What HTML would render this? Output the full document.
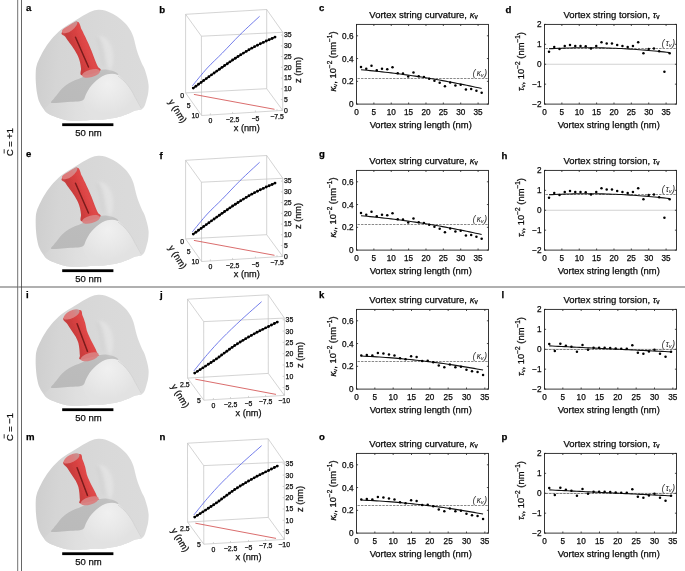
<!DOCTYPE html>
<html><head><meta charset="utf-8"><style>
html,body{margin:0;padding:0;background:#fff;}
svg{display:block;will-change:transform;}
text{font-family:"Liberation Sans", sans-serif;stroke:currentColor;stroke-width:0.25px;}
</style></head><body>
<svg width="685" height="571" viewBox="0 0 685 571">
<defs>
<filter id="soft" x="-5%" y="-5%" width="110%" height="110%"><feGaussianBlur stdDeviation="0.35"/></filter>
<filter id="blur2" x="-50%" y="-50%" width="200%" height="200%"><feGaussianBlur stdDeviation="1.6"/></filter>
<linearGradient id="gOuter" gradientUnits="userSpaceOnUse" x1="36" y1="60" x2="148" y2="70"><stop offset="0" stop-color="#cecece"/><stop offset="0.2" stop-color="#d5d5d5"/><stop offset="0.6" stop-color="#d9d9d9"/><stop offset="1" stop-color="#dbdbdb"/></linearGradient>
<radialGradient id="gDome" gradientUnits="userSpaceOnUse" cx="108" cy="84" r="30"><stop offset="0" stop-color="#f0f0f0"/><stop offset="0.6" stop-color="#e8e8e8"/><stop offset="1" stop-color="#e2e2e2"/></radialGradient>
<linearGradient id="gHollow" x1="0" y1="1" x2="1" y2="0"><stop offset="0" stop-color="#bababa"/><stop offset="0.6" stop-color="#bcbcbc"/><stop offset="1" stop-color="#c2c2c2"/></linearGradient>
<linearGradient id="gTube1" gradientUnits="userSpaceOnUse" x1="66" y1="50" x2="92" y2="40"><stop offset="0" stop-color="#d45454"/><stop offset="0.2" stop-color="#c63c3c"/><stop offset="0.5" stop-color="#d64040"/><stop offset="0.75" stop-color="#e04848"/><stop offset="1" stop-color="#cc4646"/></linearGradient>
<linearGradient id="gTube3" gradientUnits="userSpaceOnUse" x1="66" y1="50" x2="92" y2="40"><stop offset="0" stop-color="#d45454"/><stop offset="0.2" stop-color="#c63c3c"/><stop offset="0.5" stop-color="#d64040"/><stop offset="0.75" stop-color="#e04848"/><stop offset="1" stop-color="#cc4646"/></linearGradient>
<linearGradient id="gLower" gradientUnits="userSpaceOnUse" x1="42" y1="110" x2="140" y2="110"><stop offset="0" stop-color="#d4d4d4"/><stop offset="0.35" stop-color="#dfdfdf"/><stop offset="0.7" stop-color="#e5e5e5"/><stop offset="1" stop-color="#e3e3e3"/></linearGradient>
<linearGradient id="gCap" x1="0" y1="0.5" x2="1" y2="0.5"><stop offset="0" stop-color="#e07676"/><stop offset="0.6" stop-color="#d98080"/><stop offset="1" stop-color="#c49494"/></linearGradient>
<clipPath id="clipOuter"><path d="M98.30,11.08 C100.91,10.90 103.18,11.44 105.59,12.16 C108.01,12.87 110.37,14.06 112.78,15.37 C115.20,16.69 117.82,18.28 120.07,20.05 C122.32,21.82 124.55,23.98 126.28,26.00 C128.00,28.02 129.30,30.09 130.41,32.14 C131.53,34.19 132.29,36.24 132.98,38.29 C133.67,40.33 134.03,42.38 134.55,44.43 C135.08,46.47 135.44,48.36 136.13,50.57 C136.82,52.78 137.84,55.48 138.69,57.69 C139.54,59.90 140.43,62.06 141.25,63.83 C142.07,65.60 142.79,66.20 143.61,68.32 C144.43,70.43 145.49,73.77 146.18,76.50 C146.86,79.23 147.57,81.97 147.75,84.70 C147.93,87.43 147.60,90.50 147.26,92.88 C146.91,95.27 146.29,96.98 145.68,99.03 C145.08,101.08 144.48,103.63 143.61,105.17 C142.74,106.71 142.02,107.58 140.46,108.29 C138.90,109.01 136.33,108.78 134.26,109.46 C132.19,110.14 130.28,111.47 128.05,112.38 C125.82,113.29 123.62,114.16 120.86,114.92 C118.10,115.68 114.44,116.45 111.50,116.97 C108.56,117.49 105.99,117.80 103.23,118.04 C100.47,118.28 97.42,118.30 94.95,118.43 C92.49,118.56 91.31,118.66 88.45,118.82 C85.60,118.98 81.38,119.41 77.82,119.41 C74.25,119.41 70.46,119.36 67.08,118.82 C63.70,118.28 60.59,117.28 57.52,116.19 C54.46,115.10 50.99,113.83 48.66,112.29 C46.33,110.74 45.02,108.92 43.54,106.92 C42.06,104.93 40.76,102.80 39.80,100.30 C38.83,97.79 38.25,95.08 37.73,91.91 C37.20,88.74 36.82,84.81 36.64,81.28 C36.46,77.76 36.48,73.47 36.64,70.75 C36.81,68.04 37.20,66.66 37.63,65.00 C38.05,63.34 38.07,63.21 39.20,60.81 C40.34,58.40 42.36,53.98 44.42,50.57 C46.49,47.16 48.69,43.75 51.62,40.33 C54.54,36.92 57.98,33.23 61.96,30.10 C65.93,26.96 70.79,24.33 75.45,21.52 C80.11,18.70 86.12,14.97 89.93,13.23 C93.74,11.49 95.69,11.26 98.30,11.08 Z"/></clipPath>
<g id="blob1" filter="url(#soft)">
<path d="M98.40,9.70 C101.05,9.52 103.35,10.07 105.80,10.80 C108.25,11.53 110.65,12.75 113.10,14.10 C115.55,15.45 118.22,17.08 120.50,18.90 C122.78,20.72 125.05,22.93 126.80,25.00 C128.55,27.07 129.87,29.20 131.00,31.30 C132.13,33.40 132.90,35.50 133.60,37.60 C134.30,39.70 134.67,41.80 135.20,43.90 C135.73,46.00 136.10,47.93 136.80,50.20 C137.50,52.47 138.53,55.23 139.40,57.50 C140.27,59.77 141.17,61.98 142.00,63.80 C142.83,65.62 143.57,66.23 144.40,68.40 C145.23,70.57 146.30,74.00 147.00,76.80 C147.70,79.60 148.42,82.40 148.60,85.20 C148.78,88.00 148.45,91.15 148.10,93.60 C147.75,96.05 147.12,97.80 146.50,99.90 C145.88,102.00 145.28,104.62 144.40,106.20 C143.52,107.78 142.78,108.67 141.20,109.40 C139.62,110.13 137.00,109.90 134.90,110.60 C132.80,111.30 130.87,112.67 128.60,113.60 C126.33,114.53 124.10,115.42 121.30,116.20 C118.50,116.98 114.78,117.77 111.80,118.30 C108.82,118.83 106.20,119.15 103.40,119.40 C100.60,119.65 97.50,119.67 95.00,119.80 C92.50,119.93 91.30,120.03 88.40,120.20 C85.50,120.37 81.22,120.80 77.60,120.80 C73.98,120.80 70.13,120.75 66.70,120.20 C63.27,119.65 60.12,118.62 57.00,117.50 C53.88,116.38 50.37,115.08 48.00,113.50 C45.63,111.92 44.30,110.05 42.80,108.00 C41.30,105.95 39.98,103.77 39.00,101.20 C38.02,98.63 37.43,95.85 36.90,92.60 C36.37,89.35 35.98,85.32 35.80,81.70 C35.62,78.08 35.63,73.68 35.80,70.90 C35.97,68.12 36.37,66.70 36.80,65.00 C37.23,63.30 37.25,63.17 38.40,60.70 C39.55,58.23 41.60,53.70 43.70,50.20 C45.80,46.70 48.03,43.20 51.00,39.70 C53.97,36.20 57.47,32.42 61.50,29.20 C65.53,25.98 70.47,23.28 75.20,20.40 C79.93,17.52 86.03,13.68 89.90,11.90 C93.77,10.12 95.75,9.88 98.40,9.70 Z" fill="url(#gOuter)"/>
<path d="M51.50,102.90 C54.27,102.35 60.62,102.42 64.60,102.20 C68.58,101.98 72.30,101.98 75.40,101.60 C78.50,101.22 81.40,101.20 83.20,99.90 C85.00,98.60 85.13,95.82 86.20,93.80 C87.27,91.78 88.27,89.67 89.60,87.80 C90.93,85.93 92.60,84.20 94.20,82.60 C95.80,81.00 97.32,79.50 99.20,78.20 C101.08,76.90 103.22,75.53 105.50,74.80 C107.78,74.07 110.80,73.77 112.90,73.80 C115.00,73.83 116.35,73.97 118.10,75.00 C119.85,76.03 121.65,78.12 123.40,80.00 C125.15,81.88 127.03,84.20 128.60,86.30 C130.17,88.40 131.40,90.32 132.80,92.60 C134.20,94.88 135.77,97.90 137.00,100.00 C138.23,102.10 139.45,103.67 140.20,105.20 C140.95,106.73 142.38,108.30 141.50,109.20 C140.62,110.10 137.05,109.87 134.90,110.60 C132.75,111.33 130.87,112.67 128.60,113.60 C126.33,114.53 124.10,115.42 121.30,116.20 C118.50,116.98 114.78,117.77 111.80,118.30 C108.82,118.83 106.20,119.15 103.40,119.40 C100.60,119.65 97.50,119.67 95.00,119.80 C92.50,119.93 91.30,120.03 88.40,120.20 C85.50,120.37 81.22,120.80 77.60,120.80 C73.98,120.80 70.13,120.75 66.70,120.20 C63.27,119.65 60.12,118.62 57.00,117.50 C53.88,116.38 50.08,114.83 48.00,113.50 C45.92,112.17 44.50,110.83 44.50,109.50 C44.50,108.17 46.83,106.60 48.00,105.50 C49.17,104.40 48.73,103.45 51.50,102.90 Z" fill="url(#gLower)"/>
<path d="M83.20,99.90 C83.57,98.03 85.13,95.82 86.20,93.80 C87.27,91.78 88.27,89.67 89.60,87.80 C90.93,85.93 92.60,84.20 94.20,82.60 C95.80,81.00 97.32,79.50 99.20,78.20 C101.08,76.90 103.22,75.53 105.50,74.80 C107.78,74.07 110.80,73.77 112.90,73.80 C115.00,73.83 116.35,73.97 118.10,75.00 C119.85,76.03 121.65,78.12 123.40,80.00 C125.15,81.88 127.03,84.20 128.60,86.30 C130.17,88.40 131.40,90.32 132.80,92.60 C134.20,94.88 135.77,97.90 137.00,100.00 C138.23,102.10 139.45,103.67 140.20,105.20 C140.95,106.73 142.38,108.30 141.50,109.20 C140.62,110.10 137.05,109.87 134.90,110.60 C132.75,111.33 130.87,112.67 128.60,113.60 C126.33,114.53 124.10,115.42 121.30,116.20 C118.50,116.98 114.78,117.77 111.80,118.30 C108.82,118.83 106.20,119.45 103.40,119.40 C100.60,119.35 97.57,119.23 95.00,118.00 C92.43,116.77 89.83,114.17 88.00,112.00 C86.17,109.83 84.80,107.02 84.00,105.00 C83.20,102.98 82.83,101.77 83.20,99.90 Z" fill="url(#gDome)"/>
<path d="M51.50,102.90 C49.73,102.28 53.08,99.87 54.00,98.50 C54.92,97.13 55.60,96.42 57.00,94.70 C58.40,92.98 60.42,90.10 62.40,88.20 C64.38,86.30 66.73,84.65 68.90,83.30 C71.07,81.95 73.23,81.08 75.40,80.10 C77.57,79.12 79.47,78.45 81.90,77.40 C84.33,76.35 87.28,74.93 90.00,73.80 C92.72,72.67 95.62,71.30 98.20,70.60 C100.78,69.90 103.05,69.53 105.50,69.60 C107.95,69.67 110.98,70.42 112.90,71.00 C114.82,71.58 116.13,72.43 117.00,73.10 C117.87,73.77 118.78,74.88 118.10,75.00 C117.42,75.12 115.00,73.83 112.90,73.80 C110.80,73.77 107.78,74.07 105.50,74.80 C103.22,75.53 101.08,76.90 99.20,78.20 C97.32,79.50 95.80,81.00 94.20,82.60 C92.60,84.20 90.93,85.93 89.60,87.80 C88.27,89.67 87.27,91.78 86.20,93.80 C85.13,95.82 85.00,98.60 83.20,99.90 C81.40,101.20 78.50,101.22 75.40,101.60 C72.30,101.98 68.58,101.98 64.60,102.20 C60.62,102.42 53.27,103.52 51.50,102.90 Z" fill="url(#gHollow)"/>
<path d="M99,36 C103,42 105,50 106,58 C107,64 108,68 110,71 C114,66 114,56 112,48 C110,41 105,35 99,36 Z" fill="#e3e3e3" opacity="0.9" filter="url(#blur2)"/>
<path d="M97,38 C100,46 102,56 103,66" fill="none" stroke="#d0d0d0" stroke-width="1.5" filter="url(#blur2)"/>
<path d="M118,76 C124,80 129,86 133,93 C136,99 139,104 141.5,108.5" fill="none" stroke="#cfcfcf" stroke-width="0.8"/>
<g clip-path="url(#clipOuter)">
<path d="M62.00,32.20 C60.03,34.65 63.93,34.98 65.00,36.50 C66.07,38.02 66.95,39.27 68.40,41.30 C69.85,43.33 72.12,46.25 73.70,48.70 C75.28,51.15 76.85,53.73 77.90,56.00 C78.95,58.27 79.48,60.20 80.00,62.30 C80.52,64.40 80.65,66.40 81.00,68.60 C81.35,70.80 78.95,75.12 82.10,75.50 C85.25,75.88 97.28,72.40 99.90,70.90 C102.52,69.40 98.67,68.45 97.80,66.50 C96.93,64.55 95.75,61.82 94.70,59.20 C93.65,56.58 92.55,53.43 91.50,50.80 C90.45,48.17 89.55,45.95 88.40,43.40 C87.25,40.85 85.75,37.87 84.60,35.50 C83.45,33.13 82.80,31.48 81.50,29.20 C80.20,26.92 80.05,21.30 76.80,21.80 C73.55,22.30 63.97,29.75 62.00,32.20 Z" fill="url(#gTube1)"/>
<ellipse cx="91.00" cy="73.40" rx="9.30" ry="3.80" transform="rotate(-14.8 91.00 73.40)" fill="#d98080" opacity="0.95"/>
<ellipse cx="69.70" cy="27.00" rx="9.20" ry="3.90" transform="rotate(-36.7 69.70 27.00)" fill="url(#gCap)" opacity="1"/>
<line x1="75.50" y1="37.20" x2="88.50" y2="67.00" stroke="#7a1c1c" stroke-width="1.5" stroke-linecap="round"/>
</g>
</g>
<g id="blob3" filter="url(#soft)">
<path d="M98.40,9.70 C101.05,9.52 103.35,10.07 105.80,10.80 C108.25,11.53 110.65,12.75 113.10,14.10 C115.55,15.45 118.22,17.08 120.50,18.90 C122.78,20.72 125.05,22.93 126.80,25.00 C128.55,27.07 129.87,29.20 131.00,31.30 C132.13,33.40 132.90,35.50 133.60,37.60 C134.30,39.70 134.67,41.80 135.20,43.90 C135.73,46.00 136.10,47.93 136.80,50.20 C137.50,52.47 138.53,55.23 139.40,57.50 C140.27,59.77 141.17,61.98 142.00,63.80 C142.83,65.62 143.57,66.23 144.40,68.40 C145.23,70.57 146.30,74.00 147.00,76.80 C147.70,79.60 148.42,82.40 148.60,85.20 C148.78,88.00 148.45,91.15 148.10,93.60 C147.75,96.05 147.12,97.80 146.50,99.90 C145.88,102.00 145.28,104.62 144.40,106.20 C143.52,107.78 142.78,108.67 141.20,109.40 C139.62,110.13 137.00,109.90 134.90,110.60 C132.80,111.30 130.87,112.67 128.60,113.60 C126.33,114.53 124.10,115.42 121.30,116.20 C118.50,116.98 114.78,117.77 111.80,118.30 C108.82,118.83 106.20,119.15 103.40,119.40 C100.60,119.65 97.50,119.67 95.00,119.80 C92.50,119.93 91.30,120.03 88.40,120.20 C85.50,120.37 81.22,120.80 77.60,120.80 C73.98,120.80 70.13,120.75 66.70,120.20 C63.27,119.65 60.12,118.62 57.00,117.50 C53.88,116.38 50.37,115.08 48.00,113.50 C45.63,111.92 44.30,110.05 42.80,108.00 C41.30,105.95 39.98,103.77 39.00,101.20 C38.02,98.63 37.43,95.85 36.90,92.60 C36.37,89.35 35.98,85.32 35.80,81.70 C35.62,78.08 35.63,73.68 35.80,70.90 C35.97,68.12 36.37,66.70 36.80,65.00 C37.23,63.30 37.25,63.17 38.40,60.70 C39.55,58.23 41.60,53.70 43.70,50.20 C45.80,46.70 48.03,43.20 51.00,39.70 C53.97,36.20 57.47,32.42 61.50,29.20 C65.53,25.98 70.47,23.28 75.20,20.40 C79.93,17.52 86.03,13.68 89.90,11.90 C93.77,10.12 95.75,9.88 98.40,9.70 Z" fill="url(#gOuter)"/>
<path d="M51.50,102.90 C54.27,102.35 60.62,102.42 64.60,102.20 C68.58,101.98 72.30,101.98 75.40,101.60 C78.50,101.22 81.40,101.20 83.20,99.90 C85.00,98.60 85.13,95.82 86.20,93.80 C87.27,91.78 88.27,89.67 89.60,87.80 C90.93,85.93 92.60,84.20 94.20,82.60 C95.80,81.00 97.32,79.50 99.20,78.20 C101.08,76.90 103.22,75.53 105.50,74.80 C107.78,74.07 110.80,73.77 112.90,73.80 C115.00,73.83 116.35,73.97 118.10,75.00 C119.85,76.03 121.65,78.12 123.40,80.00 C125.15,81.88 127.03,84.20 128.60,86.30 C130.17,88.40 131.40,90.32 132.80,92.60 C134.20,94.88 135.77,97.90 137.00,100.00 C138.23,102.10 139.45,103.67 140.20,105.20 C140.95,106.73 142.38,108.30 141.50,109.20 C140.62,110.10 137.05,109.87 134.90,110.60 C132.75,111.33 130.87,112.67 128.60,113.60 C126.33,114.53 124.10,115.42 121.30,116.20 C118.50,116.98 114.78,117.77 111.80,118.30 C108.82,118.83 106.20,119.15 103.40,119.40 C100.60,119.65 97.50,119.67 95.00,119.80 C92.50,119.93 91.30,120.03 88.40,120.20 C85.50,120.37 81.22,120.80 77.60,120.80 C73.98,120.80 70.13,120.75 66.70,120.20 C63.27,119.65 60.12,118.62 57.00,117.50 C53.88,116.38 50.08,114.83 48.00,113.50 C45.92,112.17 44.50,110.83 44.50,109.50 C44.50,108.17 46.83,106.60 48.00,105.50 C49.17,104.40 48.73,103.45 51.50,102.90 Z" fill="url(#gLower)"/>
<path d="M83.20,99.90 C83.57,98.03 85.13,95.82 86.20,93.80 C87.27,91.78 88.27,89.67 89.60,87.80 C90.93,85.93 92.60,84.20 94.20,82.60 C95.80,81.00 97.32,79.50 99.20,78.20 C101.08,76.90 103.22,75.53 105.50,74.80 C107.78,74.07 110.80,73.77 112.90,73.80 C115.00,73.83 116.35,73.97 118.10,75.00 C119.85,76.03 121.65,78.12 123.40,80.00 C125.15,81.88 127.03,84.20 128.60,86.30 C130.17,88.40 131.40,90.32 132.80,92.60 C134.20,94.88 135.77,97.90 137.00,100.00 C138.23,102.10 139.45,103.67 140.20,105.20 C140.95,106.73 142.38,108.30 141.50,109.20 C140.62,110.10 137.05,109.87 134.90,110.60 C132.75,111.33 130.87,112.67 128.60,113.60 C126.33,114.53 124.10,115.42 121.30,116.20 C118.50,116.98 114.78,117.77 111.80,118.30 C108.82,118.83 106.20,119.45 103.40,119.40 C100.60,119.35 97.57,119.23 95.00,118.00 C92.43,116.77 89.83,114.17 88.00,112.00 C86.17,109.83 84.80,107.02 84.00,105.00 C83.20,102.98 82.83,101.77 83.20,99.90 Z" fill="url(#gDome)"/>
<path d="M51.50,102.90 C49.73,102.28 53.08,99.87 54.00,98.50 C54.92,97.13 55.60,96.42 57.00,94.70 C58.40,92.98 60.42,90.10 62.40,88.20 C64.38,86.30 66.73,84.65 68.90,83.30 C71.07,81.95 73.23,81.08 75.40,80.10 C77.57,79.12 79.47,78.45 81.90,77.40 C84.33,76.35 87.28,74.93 90.00,73.80 C92.72,72.67 95.62,71.30 98.20,70.60 C100.78,69.90 103.05,69.53 105.50,69.60 C107.95,69.67 110.98,70.42 112.90,71.00 C114.82,71.58 116.13,72.43 117.00,73.10 C117.87,73.77 118.78,74.88 118.10,75.00 C117.42,75.12 115.00,73.83 112.90,73.80 C110.80,73.77 107.78,74.07 105.50,74.80 C103.22,75.53 101.08,76.90 99.20,78.20 C97.32,79.50 95.80,81.00 94.20,82.60 C92.60,84.20 90.93,85.93 89.60,87.80 C88.27,89.67 87.27,91.78 86.20,93.80 C85.13,95.82 85.00,98.60 83.20,99.90 C81.40,101.20 78.50,101.22 75.40,101.60 C72.30,101.98 68.58,101.98 64.60,102.20 C60.62,102.42 53.27,103.52 51.50,102.90 Z" fill="url(#gHollow)"/>
<path d="M99,36 C103,42 105,50 106,58 C107,64 108,68 110,71 C114,66 114,56 112,48 C110,41 105,35 99,36 Z" fill="#e3e3e3" opacity="0.9" filter="url(#blur2)"/>
<path d="M97,38 C100,46 102,56 103,66" fill="none" stroke="#d0d0d0" stroke-width="1.5" filter="url(#blur2)"/>
<path d="M118,76 C124,80 129,86 133,93 C136,99 139,104 141.5,108.5" fill="none" stroke="#cfcfcf" stroke-width="0.8"/>
<g clip-path="url(#clipOuter)">
<path d="M63.70,32.80 C61.68,35.15 66.00,37.00 67.30,39.10 C68.60,41.20 70.10,43.30 71.50,45.40 C72.90,47.50 74.55,49.60 75.70,51.70 C76.85,53.80 77.78,55.90 78.40,58.00 C79.02,60.10 79.15,62.20 79.40,64.30 C79.65,66.40 79.67,68.92 79.90,70.60 C80.13,72.28 77.72,74.42 80.80,74.40 C83.88,74.38 95.57,71.30 98.40,70.50 C101.23,69.70 98.25,70.63 97.80,69.60 C97.35,68.57 96.58,66.23 95.70,64.30 C94.82,62.37 93.55,60.10 92.50,58.00 C91.45,55.90 90.35,53.80 89.40,51.70 C88.45,49.60 87.50,47.67 86.80,45.40 C86.10,43.13 85.90,40.55 85.20,38.10 C84.50,35.65 83.57,32.88 82.60,30.70 C81.63,28.52 82.55,24.65 79.40,25.00 C76.25,25.35 65.72,30.45 63.70,32.80 Z" fill="url(#gTube3)"/>
<ellipse cx="89.70" cy="71.80" rx="9.40" ry="3.80" transform="rotate(-17.0 89.70 71.80)" fill="#d98080" opacity="0.95"/>
<ellipse cx="71.60" cy="29.40" rx="8.80" ry="3.70" transform="rotate(-27.0 71.60 29.40)" fill="url(#gCap)" opacity="1"/>
<line x1="77.10" y1="38.80" x2="87.50" y2="66.40" stroke="#7a1c1c" stroke-width="1.5" stroke-linecap="round"/>
</g>
</g>
</defs>
<rect width="685" height="571" fill="#fff"/>
<rect x="17" y="0" width="1" height="571" fill="#8c8c8c"/>
<rect x="18" y="0" width="1" height="571" fill="#e4e4e4"/>
<rect x="21" y="0" width="1" height="571" fill="#666"/>
<rect x="0" y="286" width="685" height="2" fill="#b0b0b0"/>
<rect x="17" y="286" width="1" height="2" fill="#777"/>
<rect x="21" y="286" width="1" height="2" fill="#555"/>
<text transform="translate(13.1,142) rotate(-90)" font-size="9.3" text-anchor="middle" fill="#1a1a1a">C = +1</text>
<rect x="3.7" y="149.2" width="0.9" height="4.3" fill="#222"/>
<text transform="translate(13.1,427) rotate(-90)" font-size="9.3" text-anchor="middle" fill="#1a1a1a">C = −1</text>
<rect x="3.7" y="434.2" width="0.9" height="4.3" fill="#222"/>
<text x="26.1" y="10.80" font-size="9.6" font-weight="bold" fill="#000">a</text>
<use href="#blob1" transform="translate(0,0)"/>
<rect x="62.2" y="123.30" width="51.2" height="2.8" fill="#000"/>
<text x="88.50" y="136.00" font-size="9.5" text-anchor="middle" font-weight="normal" fill="#222" >50 nm</text>
<text x="159.3" y="12.70" font-size="9.6" font-weight="bold" fill="#000">b</text>
<line x1="185.60" y1="14.30" x2="266.70" y2="9.50" stroke="#c2c2c2" stroke-width="0.7"/>
<line x1="185.60" y1="14.30" x2="201.40" y2="36.20" stroke="#c2c2c2" stroke-width="0.7"/>
<line x1="266.70" y1="9.50" x2="282.80" y2="32.30" stroke="#c2c2c2" stroke-width="0.7"/>
<line x1="201.40" y1="36.20" x2="282.80" y2="32.30" stroke="#c2c2c2" stroke-width="0.7"/>
<line x1="185.60" y1="92.90" x2="266.70" y2="88.70" stroke="#c2c2c2" stroke-width="0.7"/>
<line x1="185.60" y1="92.90" x2="201.60" y2="115.50" stroke="#c2c2c2" stroke-width="0.7"/>
<line x1="266.70" y1="88.70" x2="282.70" y2="110.40" stroke="#c2c2c2" stroke-width="0.7"/>
<line x1="201.60" y1="115.50" x2="282.70" y2="110.40" stroke="#c2c2c2" stroke-width="0.7"/>
<line x1="185.60" y1="14.30" x2="185.60" y2="92.90" stroke="#c2c2c2" stroke-width="0.7"/>
<line x1="266.70" y1="9.50" x2="266.70" y2="88.70" stroke="#c2c2c2" stroke-width="0.7"/>
<line x1="201.40" y1="36.20" x2="201.60" y2="115.50" stroke="#c2c2c2" stroke-width="0.7"/>
<line x1="282.80" y1="32.30" x2="282.70" y2="110.40" stroke="#c2c2c2" stroke-width="0.7"/>
<line x1="193.90" y1="94.40" x2="274.50" y2="109.30" stroke="#d04848" stroke-width="0.8"/>
<path d="M192.40,85.80 C194.88,82.83 202.33,73.43 207.30,68.00 C212.27,62.57 216.73,58.77 222.20,53.20 C227.67,47.63 233.87,40.75 240.10,34.60 C246.33,28.45 256.35,19.35 259.60,16.30 " fill="none" stroke="#5a66e6" stroke-width="0.85"/>
<path d="M193.30,88.10 C196.88,85.50 208.00,77.33 214.80,72.50 C221.60,67.67 227.65,63.32 234.10,59.10 C240.55,54.88 246.68,50.87 253.50,47.20 C260.32,43.53 271.42,38.78 275.00,37.10 " fill="none" stroke="#000" stroke-width="1.3"/>
<circle cx="193.30" cy="88.10" r="1.45" fill="#000"/>
<circle cx="195.90" cy="86.20" r="1.45" fill="#000"/>
<circle cx="198.50" cy="84.31" r="1.45" fill="#000"/>
<circle cx="201.10" cy="82.41" r="1.45" fill="#000"/>
<circle cx="203.70" cy="80.51" r="1.45" fill="#000"/>
<circle cx="206.31" cy="78.62" r="1.45" fill="#000"/>
<circle cx="208.91" cy="76.73" r="1.45" fill="#000"/>
<circle cx="211.53" cy="74.84" r="1.45" fill="#000"/>
<circle cx="214.14" cy="72.97" r="1.45" fill="#000"/>
<circle cx="216.77" cy="71.10" r="1.45" fill="#000"/>
<circle cx="219.39" cy="69.24" r="1.45" fill="#000"/>
<circle cx="222.02" cy="67.37" r="1.45" fill="#000"/>
<circle cx="224.65" cy="65.52" r="1.45" fill="#000"/>
<circle cx="227.29" cy="63.68" r="1.45" fill="#000"/>
<circle cx="229.95" cy="61.87" r="1.45" fill="#000"/>
<circle cx="232.62" cy="60.07" r="1.45" fill="#000"/>
<circle cx="235.32" cy="58.31" r="1.45" fill="#000"/>
<circle cx="238.01" cy="56.55" r="1.45" fill="#000"/>
<circle cx="240.72" cy="54.80" r="1.45" fill="#000"/>
<circle cx="243.44" cy="53.08" r="1.45" fill="#000"/>
<circle cx="246.18" cy="51.40" r="1.45" fill="#000"/>
<circle cx="248.95" cy="49.75" r="1.45" fill="#000"/>
<circle cx="251.75" cy="48.16" r="1.45" fill="#000"/>
<circle cx="254.58" cy="46.63" r="1.45" fill="#000"/>
<circle cx="257.45" cy="45.18" r="1.45" fill="#000"/>
<circle cx="260.35" cy="43.78" r="1.45" fill="#000"/>
<circle cx="263.27" cy="42.41" r="1.45" fill="#000"/>
<circle cx="266.20" cy="41.07" r="1.45" fill="#000"/>
<circle cx="269.13" cy="39.75" r="1.45" fill="#000"/>
<circle cx="272.07" cy="38.43" r="1.45" fill="#000"/>
<circle cx="275.00" cy="37.10" r="1.45" fill="#000"/>
<line x1="280.90" y1="110.30" x2="282.70" y2="110.30" stroke="#c2c2c2" stroke-width="0.7"/>
<text x="283.90" y="112.70" font-size="6.9" text-anchor="start" font-weight="normal" fill="#222" >0</text>
<line x1="280.90" y1="99.55" x2="282.70" y2="99.55" stroke="#c2c2c2" stroke-width="0.7"/>
<text x="283.90" y="101.95" font-size="6.9" text-anchor="start" font-weight="normal" fill="#222" >5</text>
<line x1="280.90" y1="88.81" x2="282.70" y2="88.81" stroke="#c2c2c2" stroke-width="0.7"/>
<text x="283.90" y="91.21" font-size="6.9" text-anchor="start" font-weight="normal" fill="#222" >10</text>
<line x1="280.90" y1="78.06" x2="282.70" y2="78.06" stroke="#c2c2c2" stroke-width="0.7"/>
<text x="283.90" y="80.47" font-size="6.9" text-anchor="start" font-weight="normal" fill="#222" >15</text>
<line x1="280.90" y1="67.32" x2="282.70" y2="67.32" stroke="#c2c2c2" stroke-width="0.7"/>
<text x="283.90" y="69.72" font-size="6.9" text-anchor="start" font-weight="normal" fill="#222" >20</text>
<line x1="280.90" y1="56.57" x2="282.70" y2="56.57" stroke="#c2c2c2" stroke-width="0.7"/>
<text x="283.90" y="58.97" font-size="6.9" text-anchor="start" font-weight="normal" fill="#222" >25</text>
<line x1="280.90" y1="45.83" x2="282.70" y2="45.83" stroke="#c2c2c2" stroke-width="0.7"/>
<text x="283.90" y="48.23" font-size="6.9" text-anchor="start" font-weight="normal" fill="#222" >30</text>
<line x1="280.90" y1="35.08" x2="282.70" y2="35.08" stroke="#c2c2c2" stroke-width="0.7"/>
<text x="283.90" y="37.48" font-size="6.9" text-anchor="start" font-weight="normal" fill="#222" >35</text>
<text transform="translate(300.80,70.00) rotate(-90)" font-size="9.2" text-anchor="middle" fill="#222">z (nm)</text>
<line x1="210.40" y1="114.95" x2="210.40" y2="113.35" stroke="#c2c2c2" stroke-width="0.7"/>
<text x="210.40" y="122.80" font-size="6.9" text-anchor="middle" font-weight="normal" fill="#222" >0</text>
<line x1="232.60" y1="113.55" x2="232.60" y2="111.95" stroke="#c2c2c2" stroke-width="0.7"/>
<text x="232.60" y="122.00" font-size="6.9" text-anchor="middle" font-weight="normal" fill="#222" >−2.5</text>
<line x1="255.40" y1="112.12" x2="255.40" y2="110.52" stroke="#c2c2c2" stroke-width="0.7"/>
<text x="255.40" y="120.60" font-size="6.9" text-anchor="middle" font-weight="normal" fill="#222" >−5</text>
<line x1="277.00" y1="110.76" x2="277.00" y2="109.16" stroke="#c2c2c2" stroke-width="0.7"/>
<text x="277.00" y="119.10" font-size="6.9" text-anchor="middle" font-weight="normal" fill="#222" >−7.5</text>
<text x="246.8" y="131.00" font-size="9.2" text-anchor="middle" fill="#222">x (nm)</text>
<text x="182.10" y="97.90" font-size="6.9" text-anchor="middle" font-weight="normal" fill="#222" >0</text>
<text x="188.70" y="107.90" font-size="6.9" text-anchor="middle" font-weight="normal" fill="#222" >5</text>
<text x="195.30" y="117.60" font-size="6.9" text-anchor="middle" font-weight="normal" fill="#222" >10</text>
<text transform="translate(175.0,112.70) rotate(57.7)" font-size="9.2" text-anchor="middle" fill="#222">y (nm)</text>
<text x="319.0" y="10.80" font-size="9.6" font-weight="bold" fill="#000">c</text>
<text x="423.50" y="17.50" font-size="9.5" text-anchor="middle" fill="#111">Vortex string curvature, <tspan font-style="italic">κ</tspan><tspan font-size="6.5" dy="1.8">v</tspan></text>
<line x1="357.5" y1="78.50" x2="488.5" y2="78.50" stroke="#555" stroke-width="0.7" stroke-dasharray="2.4,1.15"/>
<polyline points="361.02,69.76 364.03,70.02 367.05,70.30 370.06,70.59 373.08,70.89 376.10,71.20 379.11,71.52 382.13,71.85 385.14,72.19 388.16,72.54 391.18,72.90 394.19,73.27 397.21,73.65 400.22,74.04 403.24,74.44 406.26,74.85 409.27,75.27 412.29,75.71 415.30,76.15 418.32,76.60 421.34,77.07 424.35,77.54 427.37,78.02 430.38,78.52 433.40,79.02 436.42,79.54 439.43,80.06 442.45,80.60 445.46,81.14 448.48,81.70 451.50,82.27 454.51,82.84 457.53,83.43 460.54,84.03 463.56,84.64 466.58,85.25 469.59,85.88 472.61,86.52 475.62,87.17 478.64,87.83 481.66,88.50" fill="none" stroke="#111" stroke-width="1.1"/>
<circle cx="361.02" cy="67.10" r="1.25" fill="#000"/>
<circle cx="366.26" cy="68.80" r="1.25" fill="#000"/>
<circle cx="371.51" cy="65.73" r="1.25" fill="#000"/>
<circle cx="376.75" cy="70.17" r="1.25" fill="#000"/>
<circle cx="382.00" cy="68.80" r="1.25" fill="#000"/>
<circle cx="387.24" cy="69.37" r="1.25" fill="#000"/>
<circle cx="392.49" cy="67.32" r="1.25" fill="#000"/>
<circle cx="397.73" cy="73.24" r="1.25" fill="#000"/>
<circle cx="402.98" cy="73.59" r="1.25" fill="#000"/>
<circle cx="408.22" cy="76.55" r="1.25" fill="#000"/>
<circle cx="413.47" cy="72.56" r="1.25" fill="#000"/>
<circle cx="418.71" cy="76.32" r="1.25" fill="#000"/>
<circle cx="423.96" cy="76.89" r="1.25" fill="#000"/>
<circle cx="429.20" cy="78.82" r="1.25" fill="#000"/>
<circle cx="434.45" cy="80.65" r="1.25" fill="#000"/>
<circle cx="439.69" cy="82.69" r="1.25" fill="#000"/>
<circle cx="444.94" cy="86.34" r="1.25" fill="#000"/>
<circle cx="450.19" cy="82.47" r="1.25" fill="#000"/>
<circle cx="455.43" cy="85.54" r="1.25" fill="#000"/>
<circle cx="460.68" cy="84.74" r="1.25" fill="#000"/>
<circle cx="465.92" cy="89.53" r="1.25" fill="#000"/>
<circle cx="471.17" cy="89.07" r="1.25" fill="#000"/>
<circle cx="476.41" cy="90.66" r="1.25" fill="#000"/>
<circle cx="481.66" cy="92.71" r="1.25" fill="#000"/>
<rect x="356.5" y="24.40" width="132" height="79.7" fill="none" stroke="#222" stroke-width="0.9"/>
<line x1="356.50" y1="104.10" x2="356.50" y2="102.50" stroke="#222" stroke-width="0.8"/>
<line x1="356.50" y1="24.40" x2="356.50" y2="26.00" stroke="#222" stroke-width="0.8"/>
<text x="356.50" y="114.60" font-size="8.2" text-anchor="middle" font-weight="normal" fill="#111" >0</text>
<line x1="373.87" y1="104.10" x2="373.87" y2="102.50" stroke="#222" stroke-width="0.8"/>
<line x1="373.87" y1="24.40" x2="373.87" y2="26.00" stroke="#222" stroke-width="0.8"/>
<text x="373.87" y="114.60" font-size="8.2" text-anchor="middle" font-weight="normal" fill="#111" >5</text>
<line x1="391.24" y1="104.10" x2="391.24" y2="102.50" stroke="#222" stroke-width="0.8"/>
<line x1="391.24" y1="24.40" x2="391.24" y2="26.00" stroke="#222" stroke-width="0.8"/>
<text x="391.24" y="114.60" font-size="8.2" text-anchor="middle" font-weight="normal" fill="#111" >10</text>
<line x1="408.61" y1="104.10" x2="408.61" y2="102.50" stroke="#222" stroke-width="0.8"/>
<line x1="408.61" y1="24.40" x2="408.61" y2="26.00" stroke="#222" stroke-width="0.8"/>
<text x="408.61" y="114.60" font-size="8.2" text-anchor="middle" font-weight="normal" fill="#111" >15</text>
<line x1="425.97" y1="104.10" x2="425.97" y2="102.50" stroke="#222" stroke-width="0.8"/>
<line x1="425.97" y1="24.40" x2="425.97" y2="26.00" stroke="#222" stroke-width="0.8"/>
<text x="425.97" y="114.60" font-size="8.2" text-anchor="middle" font-weight="normal" fill="#111" >20</text>
<line x1="443.34" y1="104.10" x2="443.34" y2="102.50" stroke="#222" stroke-width="0.8"/>
<line x1="443.34" y1="24.40" x2="443.34" y2="26.00" stroke="#222" stroke-width="0.8"/>
<text x="443.34" y="114.60" font-size="8.2" text-anchor="middle" font-weight="normal" fill="#111" >25</text>
<line x1="460.71" y1="104.10" x2="460.71" y2="102.50" stroke="#222" stroke-width="0.8"/>
<line x1="460.71" y1="24.40" x2="460.71" y2="26.00" stroke="#222" stroke-width="0.8"/>
<text x="460.71" y="114.60" font-size="8.2" text-anchor="middle" font-weight="normal" fill="#111" >30</text>
<line x1="478.08" y1="104.10" x2="478.08" y2="102.50" stroke="#222" stroke-width="0.8"/>
<line x1="478.08" y1="24.40" x2="478.08" y2="26.00" stroke="#222" stroke-width="0.8"/>
<text x="478.08" y="114.60" font-size="8.2" text-anchor="middle" font-weight="normal" fill="#111" >35</text>
<line x1="356.5" y1="104.10" x2="358.1" y2="104.10" stroke="#222" stroke-width="0.8"/>
<line x1="488.5" y1="104.10" x2="486.9" y2="104.10" stroke="#222" stroke-width="0.8"/>
<text x="353.50" y="107.10" font-size="8.2" text-anchor="end" font-weight="normal" fill="#111" >0</text>
<line x1="356.5" y1="81.33" x2="358.1" y2="81.33" stroke="#222" stroke-width="0.8"/>
<line x1="488.5" y1="81.33" x2="486.9" y2="81.33" stroke="#222" stroke-width="0.8"/>
<text x="353.50" y="84.33" font-size="8.2" text-anchor="end" font-weight="normal" fill="#111" >0.2</text>
<line x1="356.5" y1="58.56" x2="358.1" y2="58.56" stroke="#222" stroke-width="0.8"/>
<line x1="488.5" y1="58.56" x2="486.9" y2="58.56" stroke="#222" stroke-width="0.8"/>
<text x="353.50" y="61.56" font-size="8.2" text-anchor="end" font-weight="normal" fill="#111" >0.4</text>
<line x1="356.5" y1="35.79" x2="358.1" y2="35.79" stroke="#222" stroke-width="0.8"/>
<line x1="488.5" y1="35.79" x2="486.9" y2="35.79" stroke="#222" stroke-width="0.8"/>
<text x="353.50" y="38.79" font-size="8.2" text-anchor="end" font-weight="normal" fill="#111" >0.6</text>
<text x="420.70" y="127.70" font-size="9.4" text-anchor="middle" font-weight="normal" fill="#111" >Vortex string length (nm)</text>
<text transform="translate(335.50,61.50) rotate(-90)" x="0" y="0" font-size="9.4" text-anchor="middle" fill="#111"><tspan font-style="italic">κ</tspan><tspan font-size="6.2" dy="1.6">v</tspan><tspan dy="-1.6">, 10</tspan><tspan font-size="6.5" dy="-3.2">−2</tspan><tspan dy="3.2"> (nm</tspan><tspan font-size="6.5" dy="-3.2">−1</tspan><tspan dy="3.2">)</tspan></text>
<text x="486.90" y="75.60" font-size="8.3" text-anchor="end" fill="#333" font-style="italic" style="stroke-width:0.05px">(<tspan dx="1.2">κ</tspan><tspan font-size="5.6" dy="1.5">v</tspan><tspan dy="-1.5" dx="0.5">)</tspan></text>
<text x="505.6" y="12.70" font-size="9.6" font-weight="bold" fill="#000">d</text>
<text x="611.50" y="17.50" font-size="9.5" text-anchor="middle" fill="#111">Vortex string torsion, <tspan font-style="italic">τ</tspan><tspan font-size="6.5" dy="1.8">v</tspan></text>
<line x1="544.5" y1="64.25" x2="676.5" y2="64.25" stroke="#c8c8c8" stroke-width="0.8"/>
<line x1="545.5" y1="48.50" x2="676.5" y2="48.50" stroke="#555" stroke-width="0.7" stroke-dasharray="2.4,1.15"/>
<polyline points="549.02,48.75 552.03,48.59 555.05,48.45 558.06,48.32 561.08,48.20 564.10,48.10 567.11,48.01 570.13,47.93 573.14,47.86 576.16,47.81 579.18,47.77 582.19,47.75 585.21,47.73 588.22,47.73 591.24,47.74 594.26,47.77 597.27,47.81 600.29,47.86 603.30,47.92 606.32,48.00 609.34,48.09 612.35,48.19 615.37,48.31 618.38,48.43 621.40,48.57 624.42,48.73 627.43,48.90 630.45,49.08 633.46,49.27 636.48,49.47 639.50,49.69 642.51,49.93 645.53,50.17 648.54,50.43 651.56,50.70 654.58,50.98 657.59,51.28 660.61,51.59 663.62,51.91 666.64,52.24 669.66,52.59" fill="none" stroke="#111" stroke-width="1.1"/>
<circle cx="549.02" cy="51.70" r="1.25" fill="#000"/>
<circle cx="554.26" cy="46.92" r="1.25" fill="#000"/>
<circle cx="559.51" cy="49.11" r="1.25" fill="#000"/>
<circle cx="564.75" cy="45.92" r="1.25" fill="#000"/>
<circle cx="570.00" cy="44.92" r="1.25" fill="#000"/>
<circle cx="575.24" cy="45.92" r="1.25" fill="#000"/>
<circle cx="580.49" cy="45.92" r="1.25" fill="#000"/>
<circle cx="585.73" cy="46.32" r="1.25" fill="#000"/>
<circle cx="590.98" cy="48.51" r="1.25" fill="#000"/>
<circle cx="596.22" cy="45.92" r="1.25" fill="#000"/>
<circle cx="601.47" cy="42.13" r="1.25" fill="#000"/>
<circle cx="606.71" cy="43.53" r="1.25" fill="#000"/>
<circle cx="611.96" cy="43.53" r="1.25" fill="#000"/>
<circle cx="617.20" cy="44.92" r="1.25" fill="#000"/>
<circle cx="622.45" cy="45.92" r="1.25" fill="#000"/>
<circle cx="627.69" cy="46.92" r="1.25" fill="#000"/>
<circle cx="632.94" cy="45.92" r="1.25" fill="#000"/>
<circle cx="638.19" cy="42.13" r="1.25" fill="#000"/>
<circle cx="643.43" cy="53.29" r="1.25" fill="#000"/>
<circle cx="648.68" cy="49.11" r="1.25" fill="#000"/>
<circle cx="653.92" cy="48.51" r="1.25" fill="#000"/>
<circle cx="659.17" cy="51.30" r="1.25" fill="#000"/>
<circle cx="664.41" cy="71.82" r="1.25" fill="#000"/>
<circle cx="669.66" cy="53.29" r="1.25" fill="#000"/>
<rect x="544.5" y="24.40" width="132" height="79.7" fill="none" stroke="#222" stroke-width="0.9"/>
<line x1="544.50" y1="104.10" x2="544.50" y2="102.50" stroke="#222" stroke-width="0.8"/>
<line x1="544.50" y1="24.40" x2="544.50" y2="26.00" stroke="#222" stroke-width="0.8"/>
<text x="544.50" y="114.60" font-size="8.2" text-anchor="middle" font-weight="normal" fill="#111" >0</text>
<line x1="561.87" y1="104.10" x2="561.87" y2="102.50" stroke="#222" stroke-width="0.8"/>
<line x1="561.87" y1="24.40" x2="561.87" y2="26.00" stroke="#222" stroke-width="0.8"/>
<text x="561.87" y="114.60" font-size="8.2" text-anchor="middle" font-weight="normal" fill="#111" >5</text>
<line x1="579.24" y1="104.10" x2="579.24" y2="102.50" stroke="#222" stroke-width="0.8"/>
<line x1="579.24" y1="24.40" x2="579.24" y2="26.00" stroke="#222" stroke-width="0.8"/>
<text x="579.24" y="114.60" font-size="8.2" text-anchor="middle" font-weight="normal" fill="#111" >10</text>
<line x1="596.61" y1="104.10" x2="596.61" y2="102.50" stroke="#222" stroke-width="0.8"/>
<line x1="596.61" y1="24.40" x2="596.61" y2="26.00" stroke="#222" stroke-width="0.8"/>
<text x="596.61" y="114.60" font-size="8.2" text-anchor="middle" font-weight="normal" fill="#111" >15</text>
<line x1="613.97" y1="104.10" x2="613.97" y2="102.50" stroke="#222" stroke-width="0.8"/>
<line x1="613.97" y1="24.40" x2="613.97" y2="26.00" stroke="#222" stroke-width="0.8"/>
<text x="613.97" y="114.60" font-size="8.2" text-anchor="middle" font-weight="normal" fill="#111" >20</text>
<line x1="631.34" y1="104.10" x2="631.34" y2="102.50" stroke="#222" stroke-width="0.8"/>
<line x1="631.34" y1="24.40" x2="631.34" y2="26.00" stroke="#222" stroke-width="0.8"/>
<text x="631.34" y="114.60" font-size="8.2" text-anchor="middle" font-weight="normal" fill="#111" >25</text>
<line x1="648.71" y1="104.10" x2="648.71" y2="102.50" stroke="#222" stroke-width="0.8"/>
<line x1="648.71" y1="24.40" x2="648.71" y2="26.00" stroke="#222" stroke-width="0.8"/>
<text x="648.71" y="114.60" font-size="8.2" text-anchor="middle" font-weight="normal" fill="#111" >30</text>
<line x1="666.08" y1="104.10" x2="666.08" y2="102.50" stroke="#222" stroke-width="0.8"/>
<line x1="666.08" y1="24.40" x2="666.08" y2="26.00" stroke="#222" stroke-width="0.8"/>
<text x="666.08" y="114.60" font-size="8.2" text-anchor="middle" font-weight="normal" fill="#111" >35</text>
<line x1="544.5" y1="104.10" x2="546.1" y2="104.10" stroke="#222" stroke-width="0.8"/>
<line x1="676.5" y1="104.10" x2="674.9" y2="104.10" stroke="#222" stroke-width="0.8"/>
<text x="541.50" y="107.10" font-size="8.2" text-anchor="end" font-weight="normal" fill="#111" >−2</text>
<line x1="544.5" y1="84.17" x2="546.1" y2="84.17" stroke="#222" stroke-width="0.8"/>
<line x1="676.5" y1="84.17" x2="674.9" y2="84.17" stroke="#222" stroke-width="0.8"/>
<text x="541.50" y="87.17" font-size="8.2" text-anchor="end" font-weight="normal" fill="#111" >−1</text>
<line x1="544.5" y1="64.25" x2="546.1" y2="64.25" stroke="#222" stroke-width="0.8"/>
<line x1="676.5" y1="64.25" x2="674.9" y2="64.25" stroke="#222" stroke-width="0.8"/>
<text x="541.50" y="67.25" font-size="8.2" text-anchor="end" font-weight="normal" fill="#111" >0</text>
<line x1="544.5" y1="44.32" x2="546.1" y2="44.32" stroke="#222" stroke-width="0.8"/>
<line x1="676.5" y1="44.32" x2="674.9" y2="44.32" stroke="#222" stroke-width="0.8"/>
<text x="541.50" y="47.32" font-size="8.2" text-anchor="end" font-weight="normal" fill="#111" >1</text>
<line x1="544.5" y1="24.40" x2="546.1" y2="24.40" stroke="#222" stroke-width="0.8"/>
<line x1="676.5" y1="24.40" x2="674.9" y2="24.40" stroke="#222" stroke-width="0.8"/>
<text x="541.50" y="27.40" font-size="8.2" text-anchor="end" font-weight="normal" fill="#111" >2</text>
<text x="608.70" y="127.70" font-size="9.4" text-anchor="middle" font-weight="normal" fill="#111" >Vortex string length (nm)</text>
<text transform="translate(523.50,61.50) rotate(-90)" x="0" y="0" font-size="9.4" text-anchor="middle" fill="#111"><tspan font-style="italic">τ</tspan><tspan font-size="6.2" dy="1.6">v</tspan><tspan dy="-1.6">, 10</tspan><tspan font-size="6.5" dy="-3.2">−2</tspan><tspan dy="3.2"> (nm</tspan><tspan font-size="6.5" dy="-3.2">−1</tspan><tspan dy="3.2">)</tspan></text>
<text x="674.90" y="45.60" font-size="8.3" text-anchor="end" fill="#333" font-style="italic" style="stroke-width:0.05px">(<tspan dx="1.2">τ</tspan><tspan font-size="5.6" dy="1.5">v</tspan><tspan dy="-1.5" dx="0.5">)</tspan></text>
<text x="26.1" y="156.80" font-size="9.6" font-weight="bold" fill="#000">e</text>
<use href="#blob1" transform="translate(0,146)"/>
<rect x="62.2" y="269.30" width="51.2" height="2.8" fill="#000"/>
<text x="88.50" y="282.00" font-size="9.5" text-anchor="middle" font-weight="normal" fill="#222" >50 nm</text>
<text x="159.6" y="158.70" font-size="9.6" font-weight="bold" fill="#000">f</text>
<line x1="185.60" y1="160.30" x2="266.70" y2="155.50" stroke="#c2c2c2" stroke-width="0.7"/>
<line x1="185.60" y1="160.30" x2="201.40" y2="182.20" stroke="#c2c2c2" stroke-width="0.7"/>
<line x1="266.70" y1="155.50" x2="282.80" y2="178.30" stroke="#c2c2c2" stroke-width="0.7"/>
<line x1="201.40" y1="182.20" x2="282.80" y2="178.30" stroke="#c2c2c2" stroke-width="0.7"/>
<line x1="185.60" y1="238.90" x2="266.70" y2="234.70" stroke="#c2c2c2" stroke-width="0.7"/>
<line x1="185.60" y1="238.90" x2="201.60" y2="261.50" stroke="#c2c2c2" stroke-width="0.7"/>
<line x1="266.70" y1="234.70" x2="282.70" y2="256.40" stroke="#c2c2c2" stroke-width="0.7"/>
<line x1="201.60" y1="261.50" x2="282.70" y2="256.40" stroke="#c2c2c2" stroke-width="0.7"/>
<line x1="185.60" y1="160.30" x2="185.60" y2="238.90" stroke="#c2c2c2" stroke-width="0.7"/>
<line x1="266.70" y1="155.50" x2="266.70" y2="234.70" stroke="#c2c2c2" stroke-width="0.7"/>
<line x1="201.40" y1="182.20" x2="201.60" y2="261.50" stroke="#c2c2c2" stroke-width="0.7"/>
<line x1="282.80" y1="178.30" x2="282.70" y2="256.40" stroke="#c2c2c2" stroke-width="0.7"/>
<line x1="193.90" y1="240.40" x2="274.50" y2="255.30" stroke="#d04848" stroke-width="0.8"/>
<path d="M192.40,231.80 C194.88,228.83 202.33,219.43 207.30,214.00 C212.27,208.57 216.73,204.77 222.20,199.20 C227.67,193.63 233.87,186.75 240.10,180.60 C246.33,174.45 256.35,165.35 259.60,162.30 " fill="none" stroke="#5a66e6" stroke-width="0.85"/>
<path d="M193.30,234.10 C196.88,231.50 208.00,223.33 214.80,218.50 C221.60,213.67 227.65,209.32 234.10,205.10 C240.55,200.88 246.68,196.87 253.50,193.20 C260.32,189.53 271.42,184.78 275.00,183.10 " fill="none" stroke="#000" stroke-width="1.3"/>
<circle cx="193.30" cy="234.10" r="1.45" fill="#000"/>
<circle cx="195.90" cy="232.20" r="1.45" fill="#000"/>
<circle cx="198.50" cy="230.31" r="1.45" fill="#000"/>
<circle cx="201.10" cy="228.41" r="1.45" fill="#000"/>
<circle cx="203.70" cy="226.51" r="1.45" fill="#000"/>
<circle cx="206.31" cy="224.62" r="1.45" fill="#000"/>
<circle cx="208.91" cy="222.73" r="1.45" fill="#000"/>
<circle cx="211.53" cy="220.84" r="1.45" fill="#000"/>
<circle cx="214.14" cy="218.97" r="1.45" fill="#000"/>
<circle cx="216.77" cy="217.10" r="1.45" fill="#000"/>
<circle cx="219.39" cy="215.24" r="1.45" fill="#000"/>
<circle cx="222.02" cy="213.37" r="1.45" fill="#000"/>
<circle cx="224.65" cy="211.52" r="1.45" fill="#000"/>
<circle cx="227.29" cy="209.68" r="1.45" fill="#000"/>
<circle cx="229.95" cy="207.87" r="1.45" fill="#000"/>
<circle cx="232.62" cy="206.07" r="1.45" fill="#000"/>
<circle cx="235.32" cy="204.31" r="1.45" fill="#000"/>
<circle cx="238.01" cy="202.55" r="1.45" fill="#000"/>
<circle cx="240.72" cy="200.80" r="1.45" fill="#000"/>
<circle cx="243.44" cy="199.08" r="1.45" fill="#000"/>
<circle cx="246.18" cy="197.40" r="1.45" fill="#000"/>
<circle cx="248.95" cy="195.75" r="1.45" fill="#000"/>
<circle cx="251.75" cy="194.16" r="1.45" fill="#000"/>
<circle cx="254.58" cy="192.63" r="1.45" fill="#000"/>
<circle cx="257.45" cy="191.18" r="1.45" fill="#000"/>
<circle cx="260.35" cy="189.78" r="1.45" fill="#000"/>
<circle cx="263.27" cy="188.41" r="1.45" fill="#000"/>
<circle cx="266.20" cy="187.07" r="1.45" fill="#000"/>
<circle cx="269.13" cy="185.75" r="1.45" fill="#000"/>
<circle cx="272.07" cy="184.43" r="1.45" fill="#000"/>
<circle cx="275.00" cy="183.10" r="1.45" fill="#000"/>
<line x1="280.90" y1="256.30" x2="282.70" y2="256.30" stroke="#c2c2c2" stroke-width="0.7"/>
<text x="283.90" y="258.70" font-size="6.9" text-anchor="start" font-weight="normal" fill="#222" >0</text>
<line x1="280.90" y1="245.56" x2="282.70" y2="245.56" stroke="#c2c2c2" stroke-width="0.7"/>
<text x="283.90" y="247.96" font-size="6.9" text-anchor="start" font-weight="normal" fill="#222" >5</text>
<line x1="280.90" y1="234.81" x2="282.70" y2="234.81" stroke="#c2c2c2" stroke-width="0.7"/>
<text x="283.90" y="237.21" font-size="6.9" text-anchor="start" font-weight="normal" fill="#222" >10</text>
<line x1="280.90" y1="224.06" x2="282.70" y2="224.06" stroke="#c2c2c2" stroke-width="0.7"/>
<text x="283.90" y="226.47" font-size="6.9" text-anchor="start" font-weight="normal" fill="#222" >15</text>
<line x1="280.90" y1="213.32" x2="282.70" y2="213.32" stroke="#c2c2c2" stroke-width="0.7"/>
<text x="283.90" y="215.72" font-size="6.9" text-anchor="start" font-weight="normal" fill="#222" >20</text>
<line x1="280.90" y1="202.58" x2="282.70" y2="202.58" stroke="#c2c2c2" stroke-width="0.7"/>
<text x="283.90" y="204.98" font-size="6.9" text-anchor="start" font-weight="normal" fill="#222" >25</text>
<line x1="280.90" y1="191.83" x2="282.70" y2="191.83" stroke="#c2c2c2" stroke-width="0.7"/>
<text x="283.90" y="194.23" font-size="6.9" text-anchor="start" font-weight="normal" fill="#222" >30</text>
<line x1="280.90" y1="181.09" x2="282.70" y2="181.09" stroke="#c2c2c2" stroke-width="0.7"/>
<text x="283.90" y="183.49" font-size="6.9" text-anchor="start" font-weight="normal" fill="#222" >35</text>
<text transform="translate(300.80,216.00) rotate(-90)" font-size="9.2" text-anchor="middle" fill="#222">z (nm)</text>
<line x1="210.40" y1="260.95" x2="210.40" y2="259.35" stroke="#c2c2c2" stroke-width="0.7"/>
<text x="210.40" y="268.80" font-size="6.9" text-anchor="middle" font-weight="normal" fill="#222" >0</text>
<line x1="232.60" y1="259.55" x2="232.60" y2="257.95" stroke="#c2c2c2" stroke-width="0.7"/>
<text x="232.60" y="268.00" font-size="6.9" text-anchor="middle" font-weight="normal" fill="#222" >−2.5</text>
<line x1="255.40" y1="258.12" x2="255.40" y2="256.52" stroke="#c2c2c2" stroke-width="0.7"/>
<text x="255.40" y="266.60" font-size="6.9" text-anchor="middle" font-weight="normal" fill="#222" >−5</text>
<line x1="277.00" y1="256.76" x2="277.00" y2="255.16" stroke="#c2c2c2" stroke-width="0.7"/>
<text x="277.00" y="265.10" font-size="6.9" text-anchor="middle" font-weight="normal" fill="#222" >−7.5</text>
<text x="246.8" y="277.00" font-size="9.2" text-anchor="middle" fill="#222">x (nm)</text>
<text x="182.10" y="243.90" font-size="6.9" text-anchor="middle" font-weight="normal" fill="#222" >0</text>
<text x="188.70" y="253.90" font-size="6.9" text-anchor="middle" font-weight="normal" fill="#222" >5</text>
<text x="195.30" y="263.60" font-size="6.9" text-anchor="middle" font-weight="normal" fill="#222" >10</text>
<text transform="translate(175.0,258.70) rotate(57.7)" font-size="9.2" text-anchor="middle" fill="#222">y (nm)</text>
<text x="319.0" y="156.80" font-size="9.6" font-weight="bold" fill="#000">g</text>
<text x="423.50" y="163.50" font-size="9.5" text-anchor="middle" fill="#111">Vortex string curvature, <tspan font-style="italic">κ</tspan><tspan font-size="6.5" dy="1.8">v</tspan></text>
<line x1="357.5" y1="224.50" x2="488.5" y2="224.50" stroke="#555" stroke-width="0.7" stroke-dasharray="2.4,1.15"/>
<polyline points="361.02,215.76 364.03,216.02 367.05,216.30 370.06,216.59 373.08,216.89 376.10,217.20 379.11,217.52 382.13,217.85 385.14,218.19 388.16,218.54 391.18,218.90 394.19,219.27 397.21,219.65 400.22,220.04 403.24,220.44 406.26,220.85 409.27,221.27 412.29,221.71 415.30,222.15 418.32,222.60 421.34,223.07 424.35,223.54 427.37,224.02 430.38,224.52 433.40,225.02 436.42,225.54 439.43,226.06 442.45,226.60 445.46,227.14 448.48,227.70 451.50,228.27 454.51,228.84 457.53,229.43 460.54,230.03 463.56,230.64 466.58,231.25 469.59,231.88 472.61,232.52 475.62,233.17 478.64,233.83 481.66,234.50" fill="none" stroke="#111" stroke-width="1.1"/>
<circle cx="361.02" cy="213.10" r="1.25" fill="#000"/>
<circle cx="366.26" cy="214.80" r="1.25" fill="#000"/>
<circle cx="371.51" cy="211.73" r="1.25" fill="#000"/>
<circle cx="376.75" cy="216.17" r="1.25" fill="#000"/>
<circle cx="382.00" cy="214.80" r="1.25" fill="#000"/>
<circle cx="387.24" cy="215.37" r="1.25" fill="#000"/>
<circle cx="392.49" cy="213.32" r="1.25" fill="#000"/>
<circle cx="397.73" cy="219.24" r="1.25" fill="#000"/>
<circle cx="402.98" cy="219.59" r="1.25" fill="#000"/>
<circle cx="408.22" cy="222.55" r="1.25" fill="#000"/>
<circle cx="413.47" cy="218.56" r="1.25" fill="#000"/>
<circle cx="418.71" cy="222.32" r="1.25" fill="#000"/>
<circle cx="423.96" cy="222.89" r="1.25" fill="#000"/>
<circle cx="429.20" cy="224.82" r="1.25" fill="#000"/>
<circle cx="434.45" cy="226.65" r="1.25" fill="#000"/>
<circle cx="439.69" cy="228.69" r="1.25" fill="#000"/>
<circle cx="444.94" cy="232.34" r="1.25" fill="#000"/>
<circle cx="450.19" cy="228.47" r="1.25" fill="#000"/>
<circle cx="455.43" cy="231.54" r="1.25" fill="#000"/>
<circle cx="460.68" cy="230.74" r="1.25" fill="#000"/>
<circle cx="465.92" cy="235.53" r="1.25" fill="#000"/>
<circle cx="471.17" cy="235.07" r="1.25" fill="#000"/>
<circle cx="476.41" cy="236.66" r="1.25" fill="#000"/>
<circle cx="481.66" cy="238.71" r="1.25" fill="#000"/>
<rect x="356.5" y="170.40" width="132" height="79.7" fill="none" stroke="#222" stroke-width="0.9"/>
<line x1="356.50" y1="250.10" x2="356.50" y2="248.50" stroke="#222" stroke-width="0.8"/>
<line x1="356.50" y1="170.40" x2="356.50" y2="172.00" stroke="#222" stroke-width="0.8"/>
<text x="356.50" y="260.60" font-size="8.2" text-anchor="middle" font-weight="normal" fill="#111" >0</text>
<line x1="373.87" y1="250.10" x2="373.87" y2="248.50" stroke="#222" stroke-width="0.8"/>
<line x1="373.87" y1="170.40" x2="373.87" y2="172.00" stroke="#222" stroke-width="0.8"/>
<text x="373.87" y="260.60" font-size="8.2" text-anchor="middle" font-weight="normal" fill="#111" >5</text>
<line x1="391.24" y1="250.10" x2="391.24" y2="248.50" stroke="#222" stroke-width="0.8"/>
<line x1="391.24" y1="170.40" x2="391.24" y2="172.00" stroke="#222" stroke-width="0.8"/>
<text x="391.24" y="260.60" font-size="8.2" text-anchor="middle" font-weight="normal" fill="#111" >10</text>
<line x1="408.61" y1="250.10" x2="408.61" y2="248.50" stroke="#222" stroke-width="0.8"/>
<line x1="408.61" y1="170.40" x2="408.61" y2="172.00" stroke="#222" stroke-width="0.8"/>
<text x="408.61" y="260.60" font-size="8.2" text-anchor="middle" font-weight="normal" fill="#111" >15</text>
<line x1="425.97" y1="250.10" x2="425.97" y2="248.50" stroke="#222" stroke-width="0.8"/>
<line x1="425.97" y1="170.40" x2="425.97" y2="172.00" stroke="#222" stroke-width="0.8"/>
<text x="425.97" y="260.60" font-size="8.2" text-anchor="middle" font-weight="normal" fill="#111" >20</text>
<line x1="443.34" y1="250.10" x2="443.34" y2="248.50" stroke="#222" stroke-width="0.8"/>
<line x1="443.34" y1="170.40" x2="443.34" y2="172.00" stroke="#222" stroke-width="0.8"/>
<text x="443.34" y="260.60" font-size="8.2" text-anchor="middle" font-weight="normal" fill="#111" >25</text>
<line x1="460.71" y1="250.10" x2="460.71" y2="248.50" stroke="#222" stroke-width="0.8"/>
<line x1="460.71" y1="170.40" x2="460.71" y2="172.00" stroke="#222" stroke-width="0.8"/>
<text x="460.71" y="260.60" font-size="8.2" text-anchor="middle" font-weight="normal" fill="#111" >30</text>
<line x1="478.08" y1="250.10" x2="478.08" y2="248.50" stroke="#222" stroke-width="0.8"/>
<line x1="478.08" y1="170.40" x2="478.08" y2="172.00" stroke="#222" stroke-width="0.8"/>
<text x="478.08" y="260.60" font-size="8.2" text-anchor="middle" font-weight="normal" fill="#111" >35</text>
<line x1="356.5" y1="250.10" x2="358.1" y2="250.10" stroke="#222" stroke-width="0.8"/>
<line x1="488.5" y1="250.10" x2="486.9" y2="250.10" stroke="#222" stroke-width="0.8"/>
<text x="353.50" y="253.10" font-size="8.2" text-anchor="end" font-weight="normal" fill="#111" >0</text>
<line x1="356.5" y1="227.33" x2="358.1" y2="227.33" stroke="#222" stroke-width="0.8"/>
<line x1="488.5" y1="227.33" x2="486.9" y2="227.33" stroke="#222" stroke-width="0.8"/>
<text x="353.50" y="230.33" font-size="8.2" text-anchor="end" font-weight="normal" fill="#111" >0.2</text>
<line x1="356.5" y1="204.56" x2="358.1" y2="204.56" stroke="#222" stroke-width="0.8"/>
<line x1="488.5" y1="204.56" x2="486.9" y2="204.56" stroke="#222" stroke-width="0.8"/>
<text x="353.50" y="207.56" font-size="8.2" text-anchor="end" font-weight="normal" fill="#111" >0.4</text>
<line x1="356.5" y1="181.79" x2="358.1" y2="181.79" stroke="#222" stroke-width="0.8"/>
<line x1="488.5" y1="181.79" x2="486.9" y2="181.79" stroke="#222" stroke-width="0.8"/>
<text x="353.50" y="184.79" font-size="8.2" text-anchor="end" font-weight="normal" fill="#111" >0.6</text>
<text x="420.70" y="273.70" font-size="9.4" text-anchor="middle" font-weight="normal" fill="#111" >Vortex string length (nm)</text>
<text transform="translate(335.50,207.50) rotate(-90)" x="0" y="0" font-size="9.4" text-anchor="middle" fill="#111"><tspan font-style="italic">κ</tspan><tspan font-size="6.2" dy="1.6">v</tspan><tspan dy="-1.6">, 10</tspan><tspan font-size="6.5" dy="-3.2">−2</tspan><tspan dy="3.2"> (nm</tspan><tspan font-size="6.5" dy="-3.2">−1</tspan><tspan dy="3.2">)</tspan></text>
<text x="486.90" y="221.60" font-size="8.3" text-anchor="end" fill="#333" font-style="italic" style="stroke-width:0.05px">(<tspan dx="1.2">κ</tspan><tspan font-size="5.6" dy="1.5">v</tspan><tspan dy="-1.5" dx="0.5">)</tspan></text>
<text x="501.4" y="158.70" font-size="9.6" font-weight="bold" fill="#000">h</text>
<text x="611.50" y="163.50" font-size="9.5" text-anchor="middle" fill="#111">Vortex string torsion, <tspan font-style="italic">τ</tspan><tspan font-size="6.5" dy="1.8">v</tspan></text>
<line x1="544.5" y1="210.25" x2="676.5" y2="210.25" stroke="#c8c8c8" stroke-width="0.8"/>
<line x1="545.5" y1="194.50" x2="676.5" y2="194.50" stroke="#555" stroke-width="0.7" stroke-dasharray="2.4,1.15"/>
<polyline points="549.02,194.75 552.03,194.59 555.05,194.45 558.06,194.32 561.08,194.20 564.10,194.10 567.11,194.01 570.13,193.93 573.14,193.86 576.16,193.81 579.18,193.77 582.19,193.75 585.21,193.73 588.22,193.73 591.24,193.74 594.26,193.77 597.27,193.81 600.29,193.86 603.30,193.92 606.32,194.00 609.34,194.09 612.35,194.19 615.37,194.31 618.38,194.43 621.40,194.57 624.42,194.73 627.43,194.90 630.45,195.08 633.46,195.27 636.48,195.47 639.50,195.69 642.51,195.93 645.53,196.17 648.54,196.43 651.56,196.70 654.58,196.98 657.59,197.28 660.61,197.59 663.62,197.91 666.64,198.24 669.66,198.59" fill="none" stroke="#111" stroke-width="1.1"/>
<circle cx="549.02" cy="197.70" r="1.25" fill="#000"/>
<circle cx="554.26" cy="192.92" r="1.25" fill="#000"/>
<circle cx="559.51" cy="195.11" r="1.25" fill="#000"/>
<circle cx="564.75" cy="191.92" r="1.25" fill="#000"/>
<circle cx="570.00" cy="190.92" r="1.25" fill="#000"/>
<circle cx="575.24" cy="191.92" r="1.25" fill="#000"/>
<circle cx="580.49" cy="191.92" r="1.25" fill="#000"/>
<circle cx="585.73" cy="192.32" r="1.25" fill="#000"/>
<circle cx="590.98" cy="194.51" r="1.25" fill="#000"/>
<circle cx="596.22" cy="191.92" r="1.25" fill="#000"/>
<circle cx="601.47" cy="188.13" r="1.25" fill="#000"/>
<circle cx="606.71" cy="189.53" r="1.25" fill="#000"/>
<circle cx="611.96" cy="189.53" r="1.25" fill="#000"/>
<circle cx="617.20" cy="190.92" r="1.25" fill="#000"/>
<circle cx="622.45" cy="191.92" r="1.25" fill="#000"/>
<circle cx="627.69" cy="192.92" r="1.25" fill="#000"/>
<circle cx="632.94" cy="191.92" r="1.25" fill="#000"/>
<circle cx="638.19" cy="188.13" r="1.25" fill="#000"/>
<circle cx="643.43" cy="199.29" r="1.25" fill="#000"/>
<circle cx="648.68" cy="195.11" r="1.25" fill="#000"/>
<circle cx="653.92" cy="194.51" r="1.25" fill="#000"/>
<circle cx="659.17" cy="197.30" r="1.25" fill="#000"/>
<circle cx="664.41" cy="217.82" r="1.25" fill="#000"/>
<circle cx="669.66" cy="199.29" r="1.25" fill="#000"/>
<rect x="544.5" y="170.40" width="132" height="79.7" fill="none" stroke="#222" stroke-width="0.9"/>
<line x1="544.50" y1="250.10" x2="544.50" y2="248.50" stroke="#222" stroke-width="0.8"/>
<line x1="544.50" y1="170.40" x2="544.50" y2="172.00" stroke="#222" stroke-width="0.8"/>
<text x="544.50" y="260.60" font-size="8.2" text-anchor="middle" font-weight="normal" fill="#111" >0</text>
<line x1="561.87" y1="250.10" x2="561.87" y2="248.50" stroke="#222" stroke-width="0.8"/>
<line x1="561.87" y1="170.40" x2="561.87" y2="172.00" stroke="#222" stroke-width="0.8"/>
<text x="561.87" y="260.60" font-size="8.2" text-anchor="middle" font-weight="normal" fill="#111" >5</text>
<line x1="579.24" y1="250.10" x2="579.24" y2="248.50" stroke="#222" stroke-width="0.8"/>
<line x1="579.24" y1="170.40" x2="579.24" y2="172.00" stroke="#222" stroke-width="0.8"/>
<text x="579.24" y="260.60" font-size="8.2" text-anchor="middle" font-weight="normal" fill="#111" >10</text>
<line x1="596.61" y1="250.10" x2="596.61" y2="248.50" stroke="#222" stroke-width="0.8"/>
<line x1="596.61" y1="170.40" x2="596.61" y2="172.00" stroke="#222" stroke-width="0.8"/>
<text x="596.61" y="260.60" font-size="8.2" text-anchor="middle" font-weight="normal" fill="#111" >15</text>
<line x1="613.97" y1="250.10" x2="613.97" y2="248.50" stroke="#222" stroke-width="0.8"/>
<line x1="613.97" y1="170.40" x2="613.97" y2="172.00" stroke="#222" stroke-width="0.8"/>
<text x="613.97" y="260.60" font-size="8.2" text-anchor="middle" font-weight="normal" fill="#111" >20</text>
<line x1="631.34" y1="250.10" x2="631.34" y2="248.50" stroke="#222" stroke-width="0.8"/>
<line x1="631.34" y1="170.40" x2="631.34" y2="172.00" stroke="#222" stroke-width="0.8"/>
<text x="631.34" y="260.60" font-size="8.2" text-anchor="middle" font-weight="normal" fill="#111" >25</text>
<line x1="648.71" y1="250.10" x2="648.71" y2="248.50" stroke="#222" stroke-width="0.8"/>
<line x1="648.71" y1="170.40" x2="648.71" y2="172.00" stroke="#222" stroke-width="0.8"/>
<text x="648.71" y="260.60" font-size="8.2" text-anchor="middle" font-weight="normal" fill="#111" >30</text>
<line x1="666.08" y1="250.10" x2="666.08" y2="248.50" stroke="#222" stroke-width="0.8"/>
<line x1="666.08" y1="170.40" x2="666.08" y2="172.00" stroke="#222" stroke-width="0.8"/>
<text x="666.08" y="260.60" font-size="8.2" text-anchor="middle" font-weight="normal" fill="#111" >35</text>
<line x1="544.5" y1="250.10" x2="546.1" y2="250.10" stroke="#222" stroke-width="0.8"/>
<line x1="676.5" y1="250.10" x2="674.9" y2="250.10" stroke="#222" stroke-width="0.8"/>
<text x="541.50" y="253.10" font-size="8.2" text-anchor="end" font-weight="normal" fill="#111" >−2</text>
<line x1="544.5" y1="230.18" x2="546.1" y2="230.18" stroke="#222" stroke-width="0.8"/>
<line x1="676.5" y1="230.18" x2="674.9" y2="230.18" stroke="#222" stroke-width="0.8"/>
<text x="541.50" y="233.18" font-size="8.2" text-anchor="end" font-weight="normal" fill="#111" >−1</text>
<line x1="544.5" y1="210.25" x2="546.1" y2="210.25" stroke="#222" stroke-width="0.8"/>
<line x1="676.5" y1="210.25" x2="674.9" y2="210.25" stroke="#222" stroke-width="0.8"/>
<text x="541.50" y="213.25" font-size="8.2" text-anchor="end" font-weight="normal" fill="#111" >0</text>
<line x1="544.5" y1="190.33" x2="546.1" y2="190.33" stroke="#222" stroke-width="0.8"/>
<line x1="676.5" y1="190.33" x2="674.9" y2="190.33" stroke="#222" stroke-width="0.8"/>
<text x="541.50" y="193.33" font-size="8.2" text-anchor="end" font-weight="normal" fill="#111" >1</text>
<line x1="544.5" y1="170.40" x2="546.1" y2="170.40" stroke="#222" stroke-width="0.8"/>
<line x1="676.5" y1="170.40" x2="674.9" y2="170.40" stroke="#222" stroke-width="0.8"/>
<text x="541.50" y="173.40" font-size="8.2" text-anchor="end" font-weight="normal" fill="#111" >2</text>
<text x="608.70" y="273.70" font-size="9.4" text-anchor="middle" font-weight="normal" fill="#111" >Vortex string length (nm)</text>
<text transform="translate(523.50,207.50) rotate(-90)" x="0" y="0" font-size="9.4" text-anchor="middle" fill="#111"><tspan font-style="italic">τ</tspan><tspan font-size="6.2" dy="1.6">v</tspan><tspan dy="-1.6">, 10</tspan><tspan font-size="6.5" dy="-3.2">−2</tspan><tspan dy="3.2"> (nm</tspan><tspan font-size="6.5" dy="-3.2">−1</tspan><tspan dy="3.2">)</tspan></text>
<text x="674.90" y="191.60" font-size="8.3" text-anchor="end" fill="#333" font-style="italic" style="stroke-width:0.05px">(<tspan dx="1.2">τ</tspan><tspan font-size="5.6" dy="1.5">v</tspan><tspan dy="-1.5" dx="0.5">)</tspan></text>
<text x="26.1" y="297.90" font-size="9.6" font-weight="bold" fill="#000">i</text>
<use href="#blob3" transform="translate(0,285)"/>
<rect x="62.2" y="408.30" width="51.2" height="2.8" fill="#000"/>
<text x="88.50" y="421.00" font-size="9.5" text-anchor="middle" font-weight="normal" fill="#222" >50 nm</text>
<text x="159.9" y="297.90" font-size="9.6" font-weight="bold" fill="#000">j</text>
<line x1="187.50" y1="299.20" x2="268.20" y2="294.80" stroke="#c2c2c2" stroke-width="0.7"/>
<line x1="187.50" y1="299.20" x2="203.70" y2="321.60" stroke="#c2c2c2" stroke-width="0.7"/>
<line x1="268.20" y1="294.80" x2="284.40" y2="318.10" stroke="#c2c2c2" stroke-width="0.7"/>
<line x1="203.70" y1="321.60" x2="284.40" y2="318.10" stroke="#c2c2c2" stroke-width="0.7"/>
<line x1="187.60" y1="378.10" x2="268.30" y2="373.40" stroke="#c2c2c2" stroke-width="0.7"/>
<line x1="187.60" y1="378.10" x2="203.80" y2="400.20" stroke="#c2c2c2" stroke-width="0.7"/>
<line x1="268.30" y1="373.40" x2="284.40" y2="395.40" stroke="#c2c2c2" stroke-width="0.7"/>
<line x1="203.80" y1="400.20" x2="284.40" y2="395.40" stroke="#c2c2c2" stroke-width="0.7"/>
<line x1="187.50" y1="299.20" x2="187.60" y2="378.10" stroke="#c2c2c2" stroke-width="0.7"/>
<line x1="268.20" y1="294.80" x2="268.30" y2="373.40" stroke="#c2c2c2" stroke-width="0.7"/>
<line x1="203.70" y1="321.60" x2="203.80" y2="400.20" stroke="#c2c2c2" stroke-width="0.7"/>
<line x1="284.40" y1="318.10" x2="284.40" y2="395.40" stroke="#c2c2c2" stroke-width="0.7"/>
<line x1="195.40" y1="379.20" x2="276.00" y2="394.40" stroke="#d04848" stroke-width="0.8"/>
<path d="M193.90,370.90 C196.13,368.17 202.58,359.95 207.30,354.50 C212.02,349.05 216.50,344.02 222.20,338.20 C227.90,332.38 234.93,325.68 241.50,319.60 C248.07,313.52 258.25,304.68 261.60,301.70 " fill="none" stroke="#5a66e6" stroke-width="0.85"/>
<path d="M194.70,373.10 C198.05,370.92 208.23,364.52 214.80,360.00 C221.37,355.48 227.65,350.30 234.10,346.00 C240.55,341.70 246.30,338.18 253.50,334.20 C260.70,330.22 273.33,324.12 277.30,322.10 " fill="none" stroke="#000" stroke-width="1.3"/>
<circle cx="194.70" cy="373.10" r="1.45" fill="#000"/>
<circle cx="197.43" cy="371.35" r="1.45" fill="#000"/>
<circle cx="200.16" cy="369.60" r="1.45" fill="#000"/>
<circle cx="202.89" cy="367.85" r="1.45" fill="#000"/>
<circle cx="205.61" cy="366.09" r="1.45" fill="#000"/>
<circle cx="208.33" cy="364.32" r="1.45" fill="#000"/>
<circle cx="211.03" cy="362.54" r="1.45" fill="#000"/>
<circle cx="213.73" cy="360.73" r="1.45" fill="#000"/>
<circle cx="216.39" cy="358.89" r="1.45" fill="#000"/>
<circle cx="219.02" cy="356.99" r="1.45" fill="#000"/>
<circle cx="221.63" cy="355.07" r="1.45" fill="#000"/>
<circle cx="224.22" cy="353.12" r="1.45" fill="#000"/>
<circle cx="226.82" cy="351.18" r="1.45" fill="#000"/>
<circle cx="229.43" cy="349.26" r="1.45" fill="#000"/>
<circle cx="232.07" cy="347.38" r="1.45" fill="#000"/>
<circle cx="234.76" cy="345.56" r="1.45" fill="#000"/>
<circle cx="237.47" cy="343.79" r="1.45" fill="#000"/>
<circle cx="240.20" cy="342.04" r="1.45" fill="#000"/>
<circle cx="242.95" cy="340.33" r="1.45" fill="#000"/>
<circle cx="245.73" cy="338.65" r="1.45" fill="#000"/>
<circle cx="248.52" cy="337.01" r="1.45" fill="#000"/>
<circle cx="251.34" cy="335.41" r="1.45" fill="#000"/>
<circle cx="254.17" cy="333.83" r="1.45" fill="#000"/>
<circle cx="257.03" cy="332.30" r="1.45" fill="#000"/>
<circle cx="259.91" cy="330.81" r="1.45" fill="#000"/>
<circle cx="262.79" cy="329.33" r="1.45" fill="#000"/>
<circle cx="265.69" cy="327.87" r="1.45" fill="#000"/>
<circle cx="268.59" cy="326.43" r="1.45" fill="#000"/>
<circle cx="271.49" cy="324.99" r="1.45" fill="#000"/>
<circle cx="274.40" cy="323.55" r="1.45" fill="#000"/>
<circle cx="277.30" cy="322.10" r="1.45" fill="#000"/>
<line x1="282.60" y1="387.60" x2="284.40" y2="387.60" stroke="#c2c2c2" stroke-width="0.7"/>
<text x="285.60" y="390.00" font-size="6.9" text-anchor="start" font-weight="normal" fill="#222" >5</text>
<line x1="282.60" y1="376.30" x2="284.40" y2="376.30" stroke="#c2c2c2" stroke-width="0.7"/>
<text x="285.60" y="378.70" font-size="6.9" text-anchor="start" font-weight="normal" fill="#222" >10</text>
<line x1="282.60" y1="365.00" x2="284.40" y2="365.00" stroke="#c2c2c2" stroke-width="0.7"/>
<text x="285.60" y="367.40" font-size="6.9" text-anchor="start" font-weight="normal" fill="#222" >15</text>
<line x1="282.60" y1="353.70" x2="284.40" y2="353.70" stroke="#c2c2c2" stroke-width="0.7"/>
<text x="285.60" y="356.10" font-size="6.9" text-anchor="start" font-weight="normal" fill="#222" >20</text>
<line x1="282.60" y1="342.40" x2="284.40" y2="342.40" stroke="#c2c2c2" stroke-width="0.7"/>
<text x="285.60" y="344.80" font-size="6.9" text-anchor="start" font-weight="normal" fill="#222" >25</text>
<line x1="282.60" y1="331.10" x2="284.40" y2="331.10" stroke="#c2c2c2" stroke-width="0.7"/>
<text x="285.60" y="333.50" font-size="6.9" text-anchor="start" font-weight="normal" fill="#222" >30</text>
<line x1="282.60" y1="319.80" x2="284.40" y2="319.80" stroke="#c2c2c2" stroke-width="0.7"/>
<text x="285.60" y="322.20" font-size="6.9" text-anchor="start" font-weight="normal" fill="#222" >35</text>
<text transform="translate(302.60,355.00) rotate(-90)" font-size="9.2" text-anchor="middle" fill="#222">z (nm)</text>
<line x1="213.40" y1="399.63" x2="213.40" y2="398.03" stroke="#c2c2c2" stroke-width="0.7"/>
<text x="213.40" y="407.60" font-size="6.9" text-anchor="middle" font-weight="normal" fill="#222" >0</text>
<line x1="230.50" y1="398.61" x2="230.50" y2="397.01" stroke="#c2c2c2" stroke-width="0.7"/>
<text x="230.50" y="406.90" font-size="6.9" text-anchor="middle" font-weight="normal" fill="#222" >−2.5</text>
<line x1="248.50" y1="397.54" x2="248.50" y2="395.94" stroke="#c2c2c2" stroke-width="0.7"/>
<text x="248.50" y="405.90" font-size="6.9" text-anchor="middle" font-weight="normal" fill="#222" >−5</text>
<line x1="265.60" y1="396.52" x2="265.60" y2="394.92" stroke="#c2c2c2" stroke-width="0.7"/>
<text x="265.60" y="404.40" font-size="6.9" text-anchor="middle" font-weight="normal" fill="#222" >−7.5</text>
<line x1="284.20" y1="395.41" x2="284.20" y2="393.81" stroke="#c2c2c2" stroke-width="0.7"/>
<text x="284.20" y="403.40" font-size="6.9" text-anchor="middle" font-weight="normal" fill="#222" >−10</text>
<text x="248.5" y="415.80" font-size="9.2" text-anchor="middle" fill="#222">x (nm)</text>
<text x="184.90" y="386.90" font-size="6.9" text-anchor="middle" font-weight="normal" fill="#222" >2.5</text>
<text x="198.80" y="403.40" font-size="6.9" text-anchor="middle" font-weight="normal" fill="#222" >5</text>
<text transform="translate(177.5,397.50) rotate(58.4)" font-size="9.2" text-anchor="middle" fill="#222">y (nm)</text>
<text x="318.9" y="297.90" font-size="9.6" font-weight="bold" fill="#000">k</text>
<text x="423.50" y="302.50" font-size="9.5" text-anchor="middle" fill="#111">Vortex string curvature, <tspan font-style="italic">κ</tspan><tspan font-size="6.5" dy="1.8">v</tspan></text>
<line x1="357.5" y1="361.50" x2="488.5" y2="361.50" stroke="#555" stroke-width="0.7" stroke-dasharray="2.4,1.15"/>
<polyline points="361.27,356.04 364.31,356.18 367.36,356.33 370.40,356.49 373.45,356.66 376.49,356.84 379.54,357.03 382.58,357.23 385.63,357.44 388.67,357.67 391.72,357.90 394.76,358.15 397.81,358.40 400.85,358.67 403.90,358.95 406.94,359.24 409.99,359.54 413.03,359.86 416.08,360.18 419.12,360.51 422.17,360.86 425.22,361.21 428.26,361.58 431.31,361.96 434.35,362.35 437.40,362.75 440.44,363.16 443.49,363.58 446.53,364.01 449.58,364.46 452.62,364.91 455.67,365.38 458.71,365.86 461.76,366.34 464.80,366.84 467.85,367.35 470.89,367.87 473.94,368.41 476.98,368.95 480.03,369.50 483.07,370.07" fill="none" stroke="#111" stroke-width="1.1"/>
<circle cx="361.27" cy="355.51" r="1.25" fill="#000"/>
<circle cx="366.80" cy="354.94" r="1.25" fill="#000"/>
<circle cx="372.34" cy="355.51" r="1.25" fill="#000"/>
<circle cx="377.88" cy="353.01" r="1.25" fill="#000"/>
<circle cx="383.41" cy="353.46" r="1.25" fill="#000"/>
<circle cx="388.95" cy="354.49" r="1.25" fill="#000"/>
<circle cx="394.49" cy="355.51" r="1.25" fill="#000"/>
<circle cx="400.02" cy="358.13" r="1.25" fill="#000"/>
<circle cx="405.56" cy="359.27" r="1.25" fill="#000"/>
<circle cx="411.10" cy="356.20" r="1.25" fill="#000"/>
<circle cx="416.63" cy="356.99" r="1.25" fill="#000"/>
<circle cx="422.17" cy="361.09" r="1.25" fill="#000"/>
<circle cx="427.71" cy="360.64" r="1.25" fill="#000"/>
<circle cx="433.24" cy="362.23" r="1.25" fill="#000"/>
<circle cx="438.78" cy="365.42" r="1.25" fill="#000"/>
<circle cx="444.32" cy="367.24" r="1.25" fill="#000"/>
<circle cx="449.85" cy="364.39" r="1.25" fill="#000"/>
<circle cx="455.39" cy="367.24" r="1.25" fill="#000"/>
<circle cx="460.93" cy="366.78" r="1.25" fill="#000"/>
<circle cx="466.46" cy="369.86" r="1.25" fill="#000"/>
<circle cx="472.00" cy="371.34" r="1.25" fill="#000"/>
<circle cx="477.54" cy="371.91" r="1.25" fill="#000"/>
<circle cx="483.07" cy="374.98" r="1.25" fill="#000"/>
<rect x="356.5" y="309.40" width="132" height="79.7" fill="none" stroke="#222" stroke-width="0.9"/>
<line x1="356.50" y1="389.10" x2="356.50" y2="387.50" stroke="#222" stroke-width="0.8"/>
<line x1="356.50" y1="309.40" x2="356.50" y2="311.00" stroke="#222" stroke-width="0.8"/>
<text x="356.50" y="399.60" font-size="8.2" text-anchor="middle" font-weight="normal" fill="#111" >0</text>
<line x1="374.83" y1="389.10" x2="374.83" y2="387.50" stroke="#222" stroke-width="0.8"/>
<line x1="374.83" y1="309.40" x2="374.83" y2="311.00" stroke="#222" stroke-width="0.8"/>
<text x="374.83" y="399.60" font-size="8.2" text-anchor="middle" font-weight="normal" fill="#111" >5</text>
<line x1="393.17" y1="389.10" x2="393.17" y2="387.50" stroke="#222" stroke-width="0.8"/>
<line x1="393.17" y1="309.40" x2="393.17" y2="311.00" stroke="#222" stroke-width="0.8"/>
<text x="393.17" y="399.60" font-size="8.2" text-anchor="middle" font-weight="normal" fill="#111" >10</text>
<line x1="411.50" y1="389.10" x2="411.50" y2="387.50" stroke="#222" stroke-width="0.8"/>
<line x1="411.50" y1="309.40" x2="411.50" y2="311.00" stroke="#222" stroke-width="0.8"/>
<text x="411.50" y="399.60" font-size="8.2" text-anchor="middle" font-weight="normal" fill="#111" >15</text>
<line x1="429.83" y1="389.10" x2="429.83" y2="387.50" stroke="#222" stroke-width="0.8"/>
<line x1="429.83" y1="309.40" x2="429.83" y2="311.00" stroke="#222" stroke-width="0.8"/>
<text x="429.83" y="399.60" font-size="8.2" text-anchor="middle" font-weight="normal" fill="#111" >20</text>
<line x1="448.17" y1="389.10" x2="448.17" y2="387.50" stroke="#222" stroke-width="0.8"/>
<line x1="448.17" y1="309.40" x2="448.17" y2="311.00" stroke="#222" stroke-width="0.8"/>
<text x="448.17" y="399.60" font-size="8.2" text-anchor="middle" font-weight="normal" fill="#111" >25</text>
<line x1="466.50" y1="389.10" x2="466.50" y2="387.50" stroke="#222" stroke-width="0.8"/>
<line x1="466.50" y1="309.40" x2="466.50" y2="311.00" stroke="#222" stroke-width="0.8"/>
<text x="466.50" y="399.60" font-size="8.2" text-anchor="middle" font-weight="normal" fill="#111" >30</text>
<line x1="484.83" y1="389.10" x2="484.83" y2="387.50" stroke="#222" stroke-width="0.8"/>
<line x1="484.83" y1="309.40" x2="484.83" y2="311.00" stroke="#222" stroke-width="0.8"/>
<text x="484.83" y="399.60" font-size="8.2" text-anchor="middle" font-weight="normal" fill="#111" >35</text>
<line x1="356.5" y1="389.10" x2="358.1" y2="389.10" stroke="#222" stroke-width="0.8"/>
<line x1="488.5" y1="389.10" x2="486.9" y2="389.10" stroke="#222" stroke-width="0.8"/>
<text x="353.50" y="392.10" font-size="8.2" text-anchor="end" font-weight="normal" fill="#111" >0</text>
<line x1="356.5" y1="366.33" x2="358.1" y2="366.33" stroke="#222" stroke-width="0.8"/>
<line x1="488.5" y1="366.33" x2="486.9" y2="366.33" stroke="#222" stroke-width="0.8"/>
<text x="353.50" y="369.33" font-size="8.2" text-anchor="end" font-weight="normal" fill="#111" >0.2</text>
<line x1="356.5" y1="343.56" x2="358.1" y2="343.56" stroke="#222" stroke-width="0.8"/>
<line x1="488.5" y1="343.56" x2="486.9" y2="343.56" stroke="#222" stroke-width="0.8"/>
<text x="353.50" y="346.56" font-size="8.2" text-anchor="end" font-weight="normal" fill="#111" >0.4</text>
<line x1="356.5" y1="320.79" x2="358.1" y2="320.79" stroke="#222" stroke-width="0.8"/>
<line x1="488.5" y1="320.79" x2="486.9" y2="320.79" stroke="#222" stroke-width="0.8"/>
<text x="353.50" y="323.79" font-size="8.2" text-anchor="end" font-weight="normal" fill="#111" >0.6</text>
<text x="420.70" y="412.70" font-size="9.4" text-anchor="middle" font-weight="normal" fill="#111" >Vortex string length (nm)</text>
<text transform="translate(335.50,346.50) rotate(-90)" x="0" y="0" font-size="9.4" text-anchor="middle" fill="#111"><tspan font-style="italic">κ</tspan><tspan font-size="6.2" dy="1.6">v</tspan><tspan dy="-1.6">, 10</tspan><tspan font-size="6.5" dy="-3.2">−2</tspan><tspan dy="3.2"> (nm</tspan><tspan font-size="6.5" dy="-3.2">−1</tspan><tspan dy="3.2">)</tspan></text>
<text x="486.90" y="358.60" font-size="8.3" text-anchor="end" fill="#333" font-style="italic" style="stroke-width:0.05px">(<tspan dx="1.2">κ</tspan><tspan font-size="5.6" dy="1.5">v</tspan><tspan dy="-1.5" dx="0.5">)</tspan></text>
<text x="501.4" y="297.90" font-size="9.6" font-weight="bold" fill="#000">l</text>
<text x="611.50" y="302.50" font-size="9.5" text-anchor="middle" fill="#111">Vortex string torsion, <tspan font-style="italic">τ</tspan><tspan font-size="6.5" dy="1.8">v</tspan></text>
<line x1="544.5" y1="349.25" x2="676.5" y2="349.25" stroke="#c8c8c8" stroke-width="0.8"/>
<line x1="545.5" y1="349.50" x2="676.5" y2="349.50" stroke="#555" stroke-width="0.7" stroke-dasharray="2.4,1.15"/>
<polyline points="549.27,345.90 552.31,346.05 555.36,346.19 558.40,346.34 561.45,346.49 564.49,346.64 567.54,346.79 570.58,346.94 573.63,347.09 576.67,347.24 579.72,347.39 582.76,347.53 585.81,347.68 588.85,347.83 591.90,347.98 594.94,348.13 597.99,348.28 601.03,348.43 604.08,348.58 607.12,348.73 610.17,348.88 613.22,349.02 616.26,349.17 619.31,349.32 622.35,349.47 625.40,349.62 628.44,349.77 631.49,349.92 634.53,350.07 637.58,350.22 640.62,350.36 643.67,350.51 646.71,350.66 649.76,350.81 652.80,350.96 655.85,351.11 658.89,351.26 661.94,351.41 664.98,351.56 668.03,351.70 671.07,351.85" fill="none" stroke="#111" stroke-width="1.1"/>
<circle cx="549.27" cy="344.07" r="1.25" fill="#000"/>
<circle cx="554.80" cy="351.04" r="1.25" fill="#000"/>
<circle cx="560.34" cy="343.67" r="1.25" fill="#000"/>
<circle cx="565.88" cy="345.66" r="1.25" fill="#000"/>
<circle cx="571.41" cy="346.66" r="1.25" fill="#000"/>
<circle cx="576.95" cy="351.64" r="1.25" fill="#000"/>
<circle cx="582.49" cy="345.07" r="1.25" fill="#000"/>
<circle cx="588.02" cy="349.85" r="1.25" fill="#000"/>
<circle cx="593.56" cy="347.66" r="1.25" fill="#000"/>
<circle cx="599.10" cy="347.66" r="1.25" fill="#000"/>
<circle cx="604.63" cy="347.66" r="1.25" fill="#000"/>
<circle cx="610.17" cy="348.05" r="1.25" fill="#000"/>
<circle cx="615.71" cy="348.45" r="1.25" fill="#000"/>
<circle cx="621.24" cy="348.85" r="1.25" fill="#000"/>
<circle cx="626.78" cy="348.85" r="1.25" fill="#000"/>
<circle cx="632.32" cy="345.26" r="1.25" fill="#000"/>
<circle cx="637.85" cy="352.64" r="1.25" fill="#000"/>
<circle cx="643.39" cy="353.83" r="1.25" fill="#000"/>
<circle cx="648.93" cy="351.44" r="1.25" fill="#000"/>
<circle cx="654.46" cy="349.85" r="1.25" fill="#000"/>
<circle cx="660.00" cy="353.83" r="1.25" fill="#000"/>
<circle cx="665.54" cy="356.82" r="1.25" fill="#000"/>
<circle cx="671.07" cy="351.64" r="1.25" fill="#000"/>
<rect x="544.5" y="309.40" width="132" height="79.7" fill="none" stroke="#222" stroke-width="0.9"/>
<line x1="544.50" y1="389.10" x2="544.50" y2="387.50" stroke="#222" stroke-width="0.8"/>
<line x1="544.50" y1="309.40" x2="544.50" y2="311.00" stroke="#222" stroke-width="0.8"/>
<text x="544.50" y="399.60" font-size="8.2" text-anchor="middle" font-weight="normal" fill="#111" >0</text>
<line x1="562.83" y1="389.10" x2="562.83" y2="387.50" stroke="#222" stroke-width="0.8"/>
<line x1="562.83" y1="309.40" x2="562.83" y2="311.00" stroke="#222" stroke-width="0.8"/>
<text x="562.83" y="399.60" font-size="8.2" text-anchor="middle" font-weight="normal" fill="#111" >5</text>
<line x1="581.17" y1="389.10" x2="581.17" y2="387.50" stroke="#222" stroke-width="0.8"/>
<line x1="581.17" y1="309.40" x2="581.17" y2="311.00" stroke="#222" stroke-width="0.8"/>
<text x="581.17" y="399.60" font-size="8.2" text-anchor="middle" font-weight="normal" fill="#111" >10</text>
<line x1="599.50" y1="389.10" x2="599.50" y2="387.50" stroke="#222" stroke-width="0.8"/>
<line x1="599.50" y1="309.40" x2="599.50" y2="311.00" stroke="#222" stroke-width="0.8"/>
<text x="599.50" y="399.60" font-size="8.2" text-anchor="middle" font-weight="normal" fill="#111" >15</text>
<line x1="617.83" y1="389.10" x2="617.83" y2="387.50" stroke="#222" stroke-width="0.8"/>
<line x1="617.83" y1="309.40" x2="617.83" y2="311.00" stroke="#222" stroke-width="0.8"/>
<text x="617.83" y="399.60" font-size="8.2" text-anchor="middle" font-weight="normal" fill="#111" >20</text>
<line x1="636.17" y1="389.10" x2="636.17" y2="387.50" stroke="#222" stroke-width="0.8"/>
<line x1="636.17" y1="309.40" x2="636.17" y2="311.00" stroke="#222" stroke-width="0.8"/>
<text x="636.17" y="399.60" font-size="8.2" text-anchor="middle" font-weight="normal" fill="#111" >25</text>
<line x1="654.50" y1="389.10" x2="654.50" y2="387.50" stroke="#222" stroke-width="0.8"/>
<line x1="654.50" y1="309.40" x2="654.50" y2="311.00" stroke="#222" stroke-width="0.8"/>
<text x="654.50" y="399.60" font-size="8.2" text-anchor="middle" font-weight="normal" fill="#111" >30</text>
<line x1="672.83" y1="389.10" x2="672.83" y2="387.50" stroke="#222" stroke-width="0.8"/>
<line x1="672.83" y1="309.40" x2="672.83" y2="311.00" stroke="#222" stroke-width="0.8"/>
<text x="672.83" y="399.60" font-size="8.2" text-anchor="middle" font-weight="normal" fill="#111" >35</text>
<line x1="544.5" y1="389.10" x2="546.1" y2="389.10" stroke="#222" stroke-width="0.8"/>
<line x1="676.5" y1="389.10" x2="674.9" y2="389.10" stroke="#222" stroke-width="0.8"/>
<text x="541.50" y="392.10" font-size="8.2" text-anchor="end" font-weight="normal" fill="#111" >−2</text>
<line x1="544.5" y1="369.17" x2="546.1" y2="369.17" stroke="#222" stroke-width="0.8"/>
<line x1="676.5" y1="369.17" x2="674.9" y2="369.17" stroke="#222" stroke-width="0.8"/>
<text x="541.50" y="372.17" font-size="8.2" text-anchor="end" font-weight="normal" fill="#111" >−1</text>
<line x1="544.5" y1="349.25" x2="546.1" y2="349.25" stroke="#222" stroke-width="0.8"/>
<line x1="676.5" y1="349.25" x2="674.9" y2="349.25" stroke="#222" stroke-width="0.8"/>
<text x="541.50" y="352.25" font-size="8.2" text-anchor="end" font-weight="normal" fill="#111" >0</text>
<line x1="544.5" y1="329.32" x2="546.1" y2="329.32" stroke="#222" stroke-width="0.8"/>
<line x1="676.5" y1="329.32" x2="674.9" y2="329.32" stroke="#222" stroke-width="0.8"/>
<text x="541.50" y="332.32" font-size="8.2" text-anchor="end" font-weight="normal" fill="#111" >1</text>
<line x1="544.5" y1="309.40" x2="546.1" y2="309.40" stroke="#222" stroke-width="0.8"/>
<line x1="676.5" y1="309.40" x2="674.9" y2="309.40" stroke="#222" stroke-width="0.8"/>
<text x="541.50" y="312.40" font-size="8.2" text-anchor="end" font-weight="normal" fill="#111" >2</text>
<text x="608.70" y="412.70" font-size="9.4" text-anchor="middle" font-weight="normal" fill="#111" >Vortex string length (nm)</text>
<text transform="translate(523.50,346.50) rotate(-90)" x="0" y="0" font-size="9.4" text-anchor="middle" fill="#111"><tspan font-style="italic">τ</tspan><tspan font-size="6.2" dy="1.6">v</tspan><tspan dy="-1.6">, 10</tspan><tspan font-size="6.5" dy="-3.2">−2</tspan><tspan dy="3.2"> (nm</tspan><tspan font-size="6.5" dy="-3.2">−1</tspan><tspan dy="3.2">)</tspan></text>
<text x="674.90" y="346.60" font-size="8.3" text-anchor="end" fill="#333" font-style="italic" style="stroke-width:0.05px">(<tspan dx="1.2">τ</tspan><tspan font-size="5.6" dy="1.5">v</tspan><tspan dy="-1.5" dx="0.5">)</tspan></text>
<text x="26.0" y="439.60" font-size="9.6" font-weight="bold" fill="#000">m</text>
<use href="#blob3" transform="translate(0,429)"/>
<rect x="62.2" y="552.30" width="51.2" height="2.8" fill="#000"/>
<text x="88.50" y="565.00" font-size="9.5" text-anchor="middle" font-weight="normal" fill="#222" >50 nm</text>
<text x="159.4" y="439.60" font-size="9.6" font-weight="bold" fill="#000">n</text>
<line x1="187.50" y1="443.20" x2="268.20" y2="438.80" stroke="#c2c2c2" stroke-width="0.7"/>
<line x1="187.50" y1="443.20" x2="203.70" y2="465.60" stroke="#c2c2c2" stroke-width="0.7"/>
<line x1="268.20" y1="438.80" x2="284.40" y2="462.10" stroke="#c2c2c2" stroke-width="0.7"/>
<line x1="203.70" y1="465.60" x2="284.40" y2="462.10" stroke="#c2c2c2" stroke-width="0.7"/>
<line x1="187.60" y1="522.10" x2="268.30" y2="517.40" stroke="#c2c2c2" stroke-width="0.7"/>
<line x1="187.60" y1="522.10" x2="203.80" y2="544.20" stroke="#c2c2c2" stroke-width="0.7"/>
<line x1="268.30" y1="517.40" x2="284.40" y2="539.40" stroke="#c2c2c2" stroke-width="0.7"/>
<line x1="203.80" y1="544.20" x2="284.40" y2="539.40" stroke="#c2c2c2" stroke-width="0.7"/>
<line x1="187.50" y1="443.20" x2="187.60" y2="522.10" stroke="#c2c2c2" stroke-width="0.7"/>
<line x1="268.20" y1="438.80" x2="268.30" y2="517.40" stroke="#c2c2c2" stroke-width="0.7"/>
<line x1="203.70" y1="465.60" x2="203.80" y2="544.20" stroke="#c2c2c2" stroke-width="0.7"/>
<line x1="284.40" y1="462.10" x2="284.40" y2="539.40" stroke="#c2c2c2" stroke-width="0.7"/>
<line x1="195.40" y1="523.20" x2="276.00" y2="538.40" stroke="#d04848" stroke-width="0.8"/>
<path d="M193.90,514.90 C196.13,512.17 202.58,503.95 207.30,498.50 C212.02,493.05 216.50,488.02 222.20,482.20 C227.90,476.38 234.93,469.68 241.50,463.60 C248.07,457.52 258.25,448.68 261.60,445.70 " fill="none" stroke="#5a66e6" stroke-width="0.85"/>
<path d="M194.70,517.10 C198.05,514.92 208.23,508.52 214.80,504.00 C221.37,499.48 227.65,494.30 234.10,490.00 C240.55,485.70 246.30,482.18 253.50,478.20 C260.70,474.22 273.33,468.12 277.30,466.10 " fill="none" stroke="#000" stroke-width="1.3"/>
<circle cx="194.70" cy="517.10" r="1.45" fill="#000"/>
<circle cx="197.43" cy="515.35" r="1.45" fill="#000"/>
<circle cx="200.16" cy="513.60" r="1.45" fill="#000"/>
<circle cx="202.89" cy="511.85" r="1.45" fill="#000"/>
<circle cx="205.61" cy="510.09" r="1.45" fill="#000"/>
<circle cx="208.33" cy="508.32" r="1.45" fill="#000"/>
<circle cx="211.03" cy="506.54" r="1.45" fill="#000"/>
<circle cx="213.73" cy="504.73" r="1.45" fill="#000"/>
<circle cx="216.39" cy="502.89" r="1.45" fill="#000"/>
<circle cx="219.02" cy="500.99" r="1.45" fill="#000"/>
<circle cx="221.63" cy="499.07" r="1.45" fill="#000"/>
<circle cx="224.22" cy="497.12" r="1.45" fill="#000"/>
<circle cx="226.82" cy="495.18" r="1.45" fill="#000"/>
<circle cx="229.43" cy="493.26" r="1.45" fill="#000"/>
<circle cx="232.07" cy="491.38" r="1.45" fill="#000"/>
<circle cx="234.76" cy="489.56" r="1.45" fill="#000"/>
<circle cx="237.47" cy="487.79" r="1.45" fill="#000"/>
<circle cx="240.20" cy="486.04" r="1.45" fill="#000"/>
<circle cx="242.95" cy="484.33" r="1.45" fill="#000"/>
<circle cx="245.73" cy="482.65" r="1.45" fill="#000"/>
<circle cx="248.52" cy="481.01" r="1.45" fill="#000"/>
<circle cx="251.34" cy="479.41" r="1.45" fill="#000"/>
<circle cx="254.17" cy="477.83" r="1.45" fill="#000"/>
<circle cx="257.03" cy="476.30" r="1.45" fill="#000"/>
<circle cx="259.91" cy="474.81" r="1.45" fill="#000"/>
<circle cx="262.79" cy="473.33" r="1.45" fill="#000"/>
<circle cx="265.69" cy="471.87" r="1.45" fill="#000"/>
<circle cx="268.59" cy="470.43" r="1.45" fill="#000"/>
<circle cx="271.49" cy="468.99" r="1.45" fill="#000"/>
<circle cx="274.40" cy="467.55" r="1.45" fill="#000"/>
<circle cx="277.30" cy="466.10" r="1.45" fill="#000"/>
<line x1="282.60" y1="531.60" x2="284.40" y2="531.60" stroke="#c2c2c2" stroke-width="0.7"/>
<text x="285.60" y="534.00" font-size="6.9" text-anchor="start" font-weight="normal" fill="#222" >5</text>
<line x1="282.60" y1="520.30" x2="284.40" y2="520.30" stroke="#c2c2c2" stroke-width="0.7"/>
<text x="285.60" y="522.70" font-size="6.9" text-anchor="start" font-weight="normal" fill="#222" >10</text>
<line x1="282.60" y1="509.00" x2="284.40" y2="509.00" stroke="#c2c2c2" stroke-width="0.7"/>
<text x="285.60" y="511.40" font-size="6.9" text-anchor="start" font-weight="normal" fill="#222" >15</text>
<line x1="282.60" y1="497.70" x2="284.40" y2="497.70" stroke="#c2c2c2" stroke-width="0.7"/>
<text x="285.60" y="500.10" font-size="6.9" text-anchor="start" font-weight="normal" fill="#222" >20</text>
<line x1="282.60" y1="486.40" x2="284.40" y2="486.40" stroke="#c2c2c2" stroke-width="0.7"/>
<text x="285.60" y="488.80" font-size="6.9" text-anchor="start" font-weight="normal" fill="#222" >25</text>
<line x1="282.60" y1="475.10" x2="284.40" y2="475.10" stroke="#c2c2c2" stroke-width="0.7"/>
<text x="285.60" y="477.50" font-size="6.9" text-anchor="start" font-weight="normal" fill="#222" >30</text>
<line x1="282.60" y1="463.80" x2="284.40" y2="463.80" stroke="#c2c2c2" stroke-width="0.7"/>
<text x="285.60" y="466.20" font-size="6.9" text-anchor="start" font-weight="normal" fill="#222" >35</text>
<text transform="translate(302.60,499.00) rotate(-90)" font-size="9.2" text-anchor="middle" fill="#222">z (nm)</text>
<line x1="213.40" y1="543.63" x2="213.40" y2="542.03" stroke="#c2c2c2" stroke-width="0.7"/>
<text x="213.40" y="551.60" font-size="6.9" text-anchor="middle" font-weight="normal" fill="#222" >0</text>
<line x1="230.50" y1="542.61" x2="230.50" y2="541.01" stroke="#c2c2c2" stroke-width="0.7"/>
<text x="230.50" y="550.90" font-size="6.9" text-anchor="middle" font-weight="normal" fill="#222" >−2.5</text>
<line x1="248.50" y1="541.54" x2="248.50" y2="539.94" stroke="#c2c2c2" stroke-width="0.7"/>
<text x="248.50" y="549.90" font-size="6.9" text-anchor="middle" font-weight="normal" fill="#222" >−5</text>
<line x1="265.60" y1="540.52" x2="265.60" y2="538.92" stroke="#c2c2c2" stroke-width="0.7"/>
<text x="265.60" y="548.40" font-size="6.9" text-anchor="middle" font-weight="normal" fill="#222" >−7.5</text>
<line x1="284.20" y1="539.41" x2="284.20" y2="537.81" stroke="#c2c2c2" stroke-width="0.7"/>
<text x="284.20" y="547.40" font-size="6.9" text-anchor="middle" font-weight="normal" fill="#222" >−10</text>
<text x="248.5" y="559.80" font-size="9.2" text-anchor="middle" fill="#222">x (nm)</text>
<text x="184.90" y="530.90" font-size="6.9" text-anchor="middle" font-weight="normal" fill="#222" >2.5</text>
<text x="198.80" y="547.40" font-size="6.9" text-anchor="middle" font-weight="normal" fill="#222" >5</text>
<text transform="translate(177.5,541.50) rotate(58.4)" font-size="9.2" text-anchor="middle" fill="#222">y (nm)</text>
<text x="319.1" y="439.60" font-size="9.6" font-weight="bold" fill="#000">o</text>
<text x="423.50" y="446.50" font-size="9.5" text-anchor="middle" fill="#111">Vortex string curvature, <tspan font-style="italic">κ</tspan><tspan font-size="6.5" dy="1.8">v</tspan></text>
<line x1="357.5" y1="505.50" x2="488.5" y2="505.50" stroke="#555" stroke-width="0.7" stroke-dasharray="2.4,1.15"/>
<polyline points="361.27,500.04 364.31,500.18 367.36,500.33 370.40,500.49 373.45,500.66 376.49,500.84 379.54,501.03 382.58,501.23 385.63,501.44 388.67,501.67 391.72,501.90 394.76,502.15 397.81,502.40 400.85,502.67 403.90,502.95 406.94,503.24 409.99,503.54 413.03,503.86 416.08,504.18 419.12,504.51 422.17,504.86 425.22,505.21 428.26,505.58 431.31,505.96 434.35,506.35 437.40,506.75 440.44,507.16 443.49,507.58 446.53,508.01 449.58,508.46 452.62,508.91 455.67,509.38 458.71,509.86 461.76,510.34 464.80,510.84 467.85,511.35 470.89,511.87 473.94,512.41 476.98,512.95 480.03,513.50 483.07,514.07" fill="none" stroke="#111" stroke-width="1.1"/>
<circle cx="361.27" cy="499.51" r="1.25" fill="#000"/>
<circle cx="366.80" cy="498.94" r="1.25" fill="#000"/>
<circle cx="372.34" cy="499.51" r="1.25" fill="#000"/>
<circle cx="377.88" cy="497.01" r="1.25" fill="#000"/>
<circle cx="383.41" cy="497.46" r="1.25" fill="#000"/>
<circle cx="388.95" cy="498.49" r="1.25" fill="#000"/>
<circle cx="394.49" cy="499.51" r="1.25" fill="#000"/>
<circle cx="400.02" cy="502.13" r="1.25" fill="#000"/>
<circle cx="405.56" cy="503.27" r="1.25" fill="#000"/>
<circle cx="411.10" cy="500.20" r="1.25" fill="#000"/>
<circle cx="416.63" cy="500.99" r="1.25" fill="#000"/>
<circle cx="422.17" cy="505.09" r="1.25" fill="#000"/>
<circle cx="427.71" cy="504.64" r="1.25" fill="#000"/>
<circle cx="433.24" cy="506.23" r="1.25" fill="#000"/>
<circle cx="438.78" cy="509.42" r="1.25" fill="#000"/>
<circle cx="444.32" cy="511.24" r="1.25" fill="#000"/>
<circle cx="449.85" cy="508.39" r="1.25" fill="#000"/>
<circle cx="455.39" cy="511.24" r="1.25" fill="#000"/>
<circle cx="460.93" cy="510.78" r="1.25" fill="#000"/>
<circle cx="466.46" cy="513.86" r="1.25" fill="#000"/>
<circle cx="472.00" cy="515.34" r="1.25" fill="#000"/>
<circle cx="477.54" cy="515.91" r="1.25" fill="#000"/>
<circle cx="483.07" cy="518.98" r="1.25" fill="#000"/>
<rect x="356.5" y="453.40" width="132" height="79.7" fill="none" stroke="#222" stroke-width="0.9"/>
<line x1="356.50" y1="533.10" x2="356.50" y2="531.50" stroke="#222" stroke-width="0.8"/>
<line x1="356.50" y1="453.40" x2="356.50" y2="455.00" stroke="#222" stroke-width="0.8"/>
<text x="356.50" y="543.60" font-size="8.2" text-anchor="middle" font-weight="normal" fill="#111" >0</text>
<line x1="374.83" y1="533.10" x2="374.83" y2="531.50" stroke="#222" stroke-width="0.8"/>
<line x1="374.83" y1="453.40" x2="374.83" y2="455.00" stroke="#222" stroke-width="0.8"/>
<text x="374.83" y="543.60" font-size="8.2" text-anchor="middle" font-weight="normal" fill="#111" >5</text>
<line x1="393.17" y1="533.10" x2="393.17" y2="531.50" stroke="#222" stroke-width="0.8"/>
<line x1="393.17" y1="453.40" x2="393.17" y2="455.00" stroke="#222" stroke-width="0.8"/>
<text x="393.17" y="543.60" font-size="8.2" text-anchor="middle" font-weight="normal" fill="#111" >10</text>
<line x1="411.50" y1="533.10" x2="411.50" y2="531.50" stroke="#222" stroke-width="0.8"/>
<line x1="411.50" y1="453.40" x2="411.50" y2="455.00" stroke="#222" stroke-width="0.8"/>
<text x="411.50" y="543.60" font-size="8.2" text-anchor="middle" font-weight="normal" fill="#111" >15</text>
<line x1="429.83" y1="533.10" x2="429.83" y2="531.50" stroke="#222" stroke-width="0.8"/>
<line x1="429.83" y1="453.40" x2="429.83" y2="455.00" stroke="#222" stroke-width="0.8"/>
<text x="429.83" y="543.60" font-size="8.2" text-anchor="middle" font-weight="normal" fill="#111" >20</text>
<line x1="448.17" y1="533.10" x2="448.17" y2="531.50" stroke="#222" stroke-width="0.8"/>
<line x1="448.17" y1="453.40" x2="448.17" y2="455.00" stroke="#222" stroke-width="0.8"/>
<text x="448.17" y="543.60" font-size="8.2" text-anchor="middle" font-weight="normal" fill="#111" >25</text>
<line x1="466.50" y1="533.10" x2="466.50" y2="531.50" stroke="#222" stroke-width="0.8"/>
<line x1="466.50" y1="453.40" x2="466.50" y2="455.00" stroke="#222" stroke-width="0.8"/>
<text x="466.50" y="543.60" font-size="8.2" text-anchor="middle" font-weight="normal" fill="#111" >30</text>
<line x1="484.83" y1="533.10" x2="484.83" y2="531.50" stroke="#222" stroke-width="0.8"/>
<line x1="484.83" y1="453.40" x2="484.83" y2="455.00" stroke="#222" stroke-width="0.8"/>
<text x="484.83" y="543.60" font-size="8.2" text-anchor="middle" font-weight="normal" fill="#111" >35</text>
<line x1="356.5" y1="533.10" x2="358.1" y2="533.10" stroke="#222" stroke-width="0.8"/>
<line x1="488.5" y1="533.10" x2="486.9" y2="533.10" stroke="#222" stroke-width="0.8"/>
<text x="353.50" y="536.10" font-size="8.2" text-anchor="end" font-weight="normal" fill="#111" >0</text>
<line x1="356.5" y1="510.33" x2="358.1" y2="510.33" stroke="#222" stroke-width="0.8"/>
<line x1="488.5" y1="510.33" x2="486.9" y2="510.33" stroke="#222" stroke-width="0.8"/>
<text x="353.50" y="513.33" font-size="8.2" text-anchor="end" font-weight="normal" fill="#111" >0.2</text>
<line x1="356.5" y1="487.56" x2="358.1" y2="487.56" stroke="#222" stroke-width="0.8"/>
<line x1="488.5" y1="487.56" x2="486.9" y2="487.56" stroke="#222" stroke-width="0.8"/>
<text x="353.50" y="490.56" font-size="8.2" text-anchor="end" font-weight="normal" fill="#111" >0.4</text>
<line x1="356.5" y1="464.79" x2="358.1" y2="464.79" stroke="#222" stroke-width="0.8"/>
<line x1="488.5" y1="464.79" x2="486.9" y2="464.79" stroke="#222" stroke-width="0.8"/>
<text x="353.50" y="467.79" font-size="8.2" text-anchor="end" font-weight="normal" fill="#111" >0.6</text>
<text x="420.70" y="556.70" font-size="9.4" text-anchor="middle" font-weight="normal" fill="#111" >Vortex string length (nm)</text>
<text transform="translate(335.50,490.50) rotate(-90)" x="0" y="0" font-size="9.4" text-anchor="middle" fill="#111"><tspan font-style="italic">κ</tspan><tspan font-size="6.2" dy="1.6">v</tspan><tspan dy="-1.6">, 10</tspan><tspan font-size="6.5" dy="-3.2">−2</tspan><tspan dy="3.2"> (nm</tspan><tspan font-size="6.5" dy="-3.2">−1</tspan><tspan dy="3.2">)</tspan></text>
<text x="486.90" y="502.60" font-size="8.3" text-anchor="end" fill="#333" font-style="italic" style="stroke-width:0.05px">(<tspan dx="1.2">κ</tspan><tspan font-size="5.6" dy="1.5">v</tspan><tspan dy="-1.5" dx="0.5">)</tspan></text>
<text x="501.4" y="439.60" font-size="9.6" font-weight="bold" fill="#000">p</text>
<text x="611.50" y="446.50" font-size="9.5" text-anchor="middle" fill="#111">Vortex string torsion, <tspan font-style="italic">τ</tspan><tspan font-size="6.5" dy="1.8">v</tspan></text>
<line x1="544.5" y1="493.25" x2="676.5" y2="493.25" stroke="#c8c8c8" stroke-width="0.8"/>
<line x1="545.5" y1="493.50" x2="676.5" y2="493.50" stroke="#555" stroke-width="0.7" stroke-dasharray="2.4,1.15"/>
<polyline points="549.27,489.90 552.31,490.05 555.36,490.19 558.40,490.34 561.45,490.49 564.49,490.64 567.54,490.79 570.58,490.94 573.63,491.09 576.67,491.24 579.72,491.39 582.76,491.53 585.81,491.68 588.85,491.83 591.90,491.98 594.94,492.13 597.99,492.28 601.03,492.43 604.08,492.58 607.12,492.73 610.17,492.88 613.22,493.02 616.26,493.17 619.31,493.32 622.35,493.47 625.40,493.62 628.44,493.77 631.49,493.92 634.53,494.07 637.58,494.22 640.62,494.36 643.67,494.51 646.71,494.66 649.76,494.81 652.80,494.96 655.85,495.11 658.89,495.26 661.94,495.41 664.98,495.56 668.03,495.70 671.07,495.85" fill="none" stroke="#111" stroke-width="1.1"/>
<circle cx="549.27" cy="488.07" r="1.25" fill="#000"/>
<circle cx="554.80" cy="495.04" r="1.25" fill="#000"/>
<circle cx="560.34" cy="487.67" r="1.25" fill="#000"/>
<circle cx="565.88" cy="489.66" r="1.25" fill="#000"/>
<circle cx="571.41" cy="490.66" r="1.25" fill="#000"/>
<circle cx="576.95" cy="495.64" r="1.25" fill="#000"/>
<circle cx="582.49" cy="489.07" r="1.25" fill="#000"/>
<circle cx="588.02" cy="493.85" r="1.25" fill="#000"/>
<circle cx="593.56" cy="491.66" r="1.25" fill="#000"/>
<circle cx="599.10" cy="491.66" r="1.25" fill="#000"/>
<circle cx="604.63" cy="491.66" r="1.25" fill="#000"/>
<circle cx="610.17" cy="492.05" r="1.25" fill="#000"/>
<circle cx="615.71" cy="492.45" r="1.25" fill="#000"/>
<circle cx="621.24" cy="492.85" r="1.25" fill="#000"/>
<circle cx="626.78" cy="492.85" r="1.25" fill="#000"/>
<circle cx="632.32" cy="489.26" r="1.25" fill="#000"/>
<circle cx="637.85" cy="496.64" r="1.25" fill="#000"/>
<circle cx="643.39" cy="497.83" r="1.25" fill="#000"/>
<circle cx="648.93" cy="495.44" r="1.25" fill="#000"/>
<circle cx="654.46" cy="493.85" r="1.25" fill="#000"/>
<circle cx="660.00" cy="497.83" r="1.25" fill="#000"/>
<circle cx="665.54" cy="500.82" r="1.25" fill="#000"/>
<circle cx="671.07" cy="495.64" r="1.25" fill="#000"/>
<rect x="544.5" y="453.40" width="132" height="79.7" fill="none" stroke="#222" stroke-width="0.9"/>
<line x1="544.50" y1="533.10" x2="544.50" y2="531.50" stroke="#222" stroke-width="0.8"/>
<line x1="544.50" y1="453.40" x2="544.50" y2="455.00" stroke="#222" stroke-width="0.8"/>
<text x="544.50" y="543.60" font-size="8.2" text-anchor="middle" font-weight="normal" fill="#111" >0</text>
<line x1="562.83" y1="533.10" x2="562.83" y2="531.50" stroke="#222" stroke-width="0.8"/>
<line x1="562.83" y1="453.40" x2="562.83" y2="455.00" stroke="#222" stroke-width="0.8"/>
<text x="562.83" y="543.60" font-size="8.2" text-anchor="middle" font-weight="normal" fill="#111" >5</text>
<line x1="581.17" y1="533.10" x2="581.17" y2="531.50" stroke="#222" stroke-width="0.8"/>
<line x1="581.17" y1="453.40" x2="581.17" y2="455.00" stroke="#222" stroke-width="0.8"/>
<text x="581.17" y="543.60" font-size="8.2" text-anchor="middle" font-weight="normal" fill="#111" >10</text>
<line x1="599.50" y1="533.10" x2="599.50" y2="531.50" stroke="#222" stroke-width="0.8"/>
<line x1="599.50" y1="453.40" x2="599.50" y2="455.00" stroke="#222" stroke-width="0.8"/>
<text x="599.50" y="543.60" font-size="8.2" text-anchor="middle" font-weight="normal" fill="#111" >15</text>
<line x1="617.83" y1="533.10" x2="617.83" y2="531.50" stroke="#222" stroke-width="0.8"/>
<line x1="617.83" y1="453.40" x2="617.83" y2="455.00" stroke="#222" stroke-width="0.8"/>
<text x="617.83" y="543.60" font-size="8.2" text-anchor="middle" font-weight="normal" fill="#111" >20</text>
<line x1="636.17" y1="533.10" x2="636.17" y2="531.50" stroke="#222" stroke-width="0.8"/>
<line x1="636.17" y1="453.40" x2="636.17" y2="455.00" stroke="#222" stroke-width="0.8"/>
<text x="636.17" y="543.60" font-size="8.2" text-anchor="middle" font-weight="normal" fill="#111" >25</text>
<line x1="654.50" y1="533.10" x2="654.50" y2="531.50" stroke="#222" stroke-width="0.8"/>
<line x1="654.50" y1="453.40" x2="654.50" y2="455.00" stroke="#222" stroke-width="0.8"/>
<text x="654.50" y="543.60" font-size="8.2" text-anchor="middle" font-weight="normal" fill="#111" >30</text>
<line x1="672.83" y1="533.10" x2="672.83" y2="531.50" stroke="#222" stroke-width="0.8"/>
<line x1="672.83" y1="453.40" x2="672.83" y2="455.00" stroke="#222" stroke-width="0.8"/>
<text x="672.83" y="543.60" font-size="8.2" text-anchor="middle" font-weight="normal" fill="#111" >35</text>
<line x1="544.5" y1="533.10" x2="546.1" y2="533.10" stroke="#222" stroke-width="0.8"/>
<line x1="676.5" y1="533.10" x2="674.9" y2="533.10" stroke="#222" stroke-width="0.8"/>
<text x="541.50" y="536.10" font-size="8.2" text-anchor="end" font-weight="normal" fill="#111" >−2</text>
<line x1="544.5" y1="513.18" x2="546.1" y2="513.18" stroke="#222" stroke-width="0.8"/>
<line x1="676.5" y1="513.18" x2="674.9" y2="513.18" stroke="#222" stroke-width="0.8"/>
<text x="541.50" y="516.18" font-size="8.2" text-anchor="end" font-weight="normal" fill="#111" >−1</text>
<line x1="544.5" y1="493.25" x2="546.1" y2="493.25" stroke="#222" stroke-width="0.8"/>
<line x1="676.5" y1="493.25" x2="674.9" y2="493.25" stroke="#222" stroke-width="0.8"/>
<text x="541.50" y="496.25" font-size="8.2" text-anchor="end" font-weight="normal" fill="#111" >0</text>
<line x1="544.5" y1="473.33" x2="546.1" y2="473.33" stroke="#222" stroke-width="0.8"/>
<line x1="676.5" y1="473.33" x2="674.9" y2="473.33" stroke="#222" stroke-width="0.8"/>
<text x="541.50" y="476.33" font-size="8.2" text-anchor="end" font-weight="normal" fill="#111" >1</text>
<line x1="544.5" y1="453.40" x2="546.1" y2="453.40" stroke="#222" stroke-width="0.8"/>
<line x1="676.5" y1="453.40" x2="674.9" y2="453.40" stroke="#222" stroke-width="0.8"/>
<text x="541.50" y="456.40" font-size="8.2" text-anchor="end" font-weight="normal" fill="#111" >2</text>
<text x="608.70" y="556.70" font-size="9.4" text-anchor="middle" font-weight="normal" fill="#111" >Vortex string length (nm)</text>
<text transform="translate(523.50,490.50) rotate(-90)" x="0" y="0" font-size="9.4" text-anchor="middle" fill="#111"><tspan font-style="italic">τ</tspan><tspan font-size="6.2" dy="1.6">v</tspan><tspan dy="-1.6">, 10</tspan><tspan font-size="6.5" dy="-3.2">−2</tspan><tspan dy="3.2"> (nm</tspan><tspan font-size="6.5" dy="-3.2">−1</tspan><tspan dy="3.2">)</tspan></text>
<text x="674.90" y="490.60" font-size="8.3" text-anchor="end" fill="#333" font-style="italic" style="stroke-width:0.05px">(<tspan dx="1.2">τ</tspan><tspan font-size="5.6" dy="1.5">v</tspan><tspan dy="-1.5" dx="0.5">)</tspan></text>
</svg>
</body></html>
